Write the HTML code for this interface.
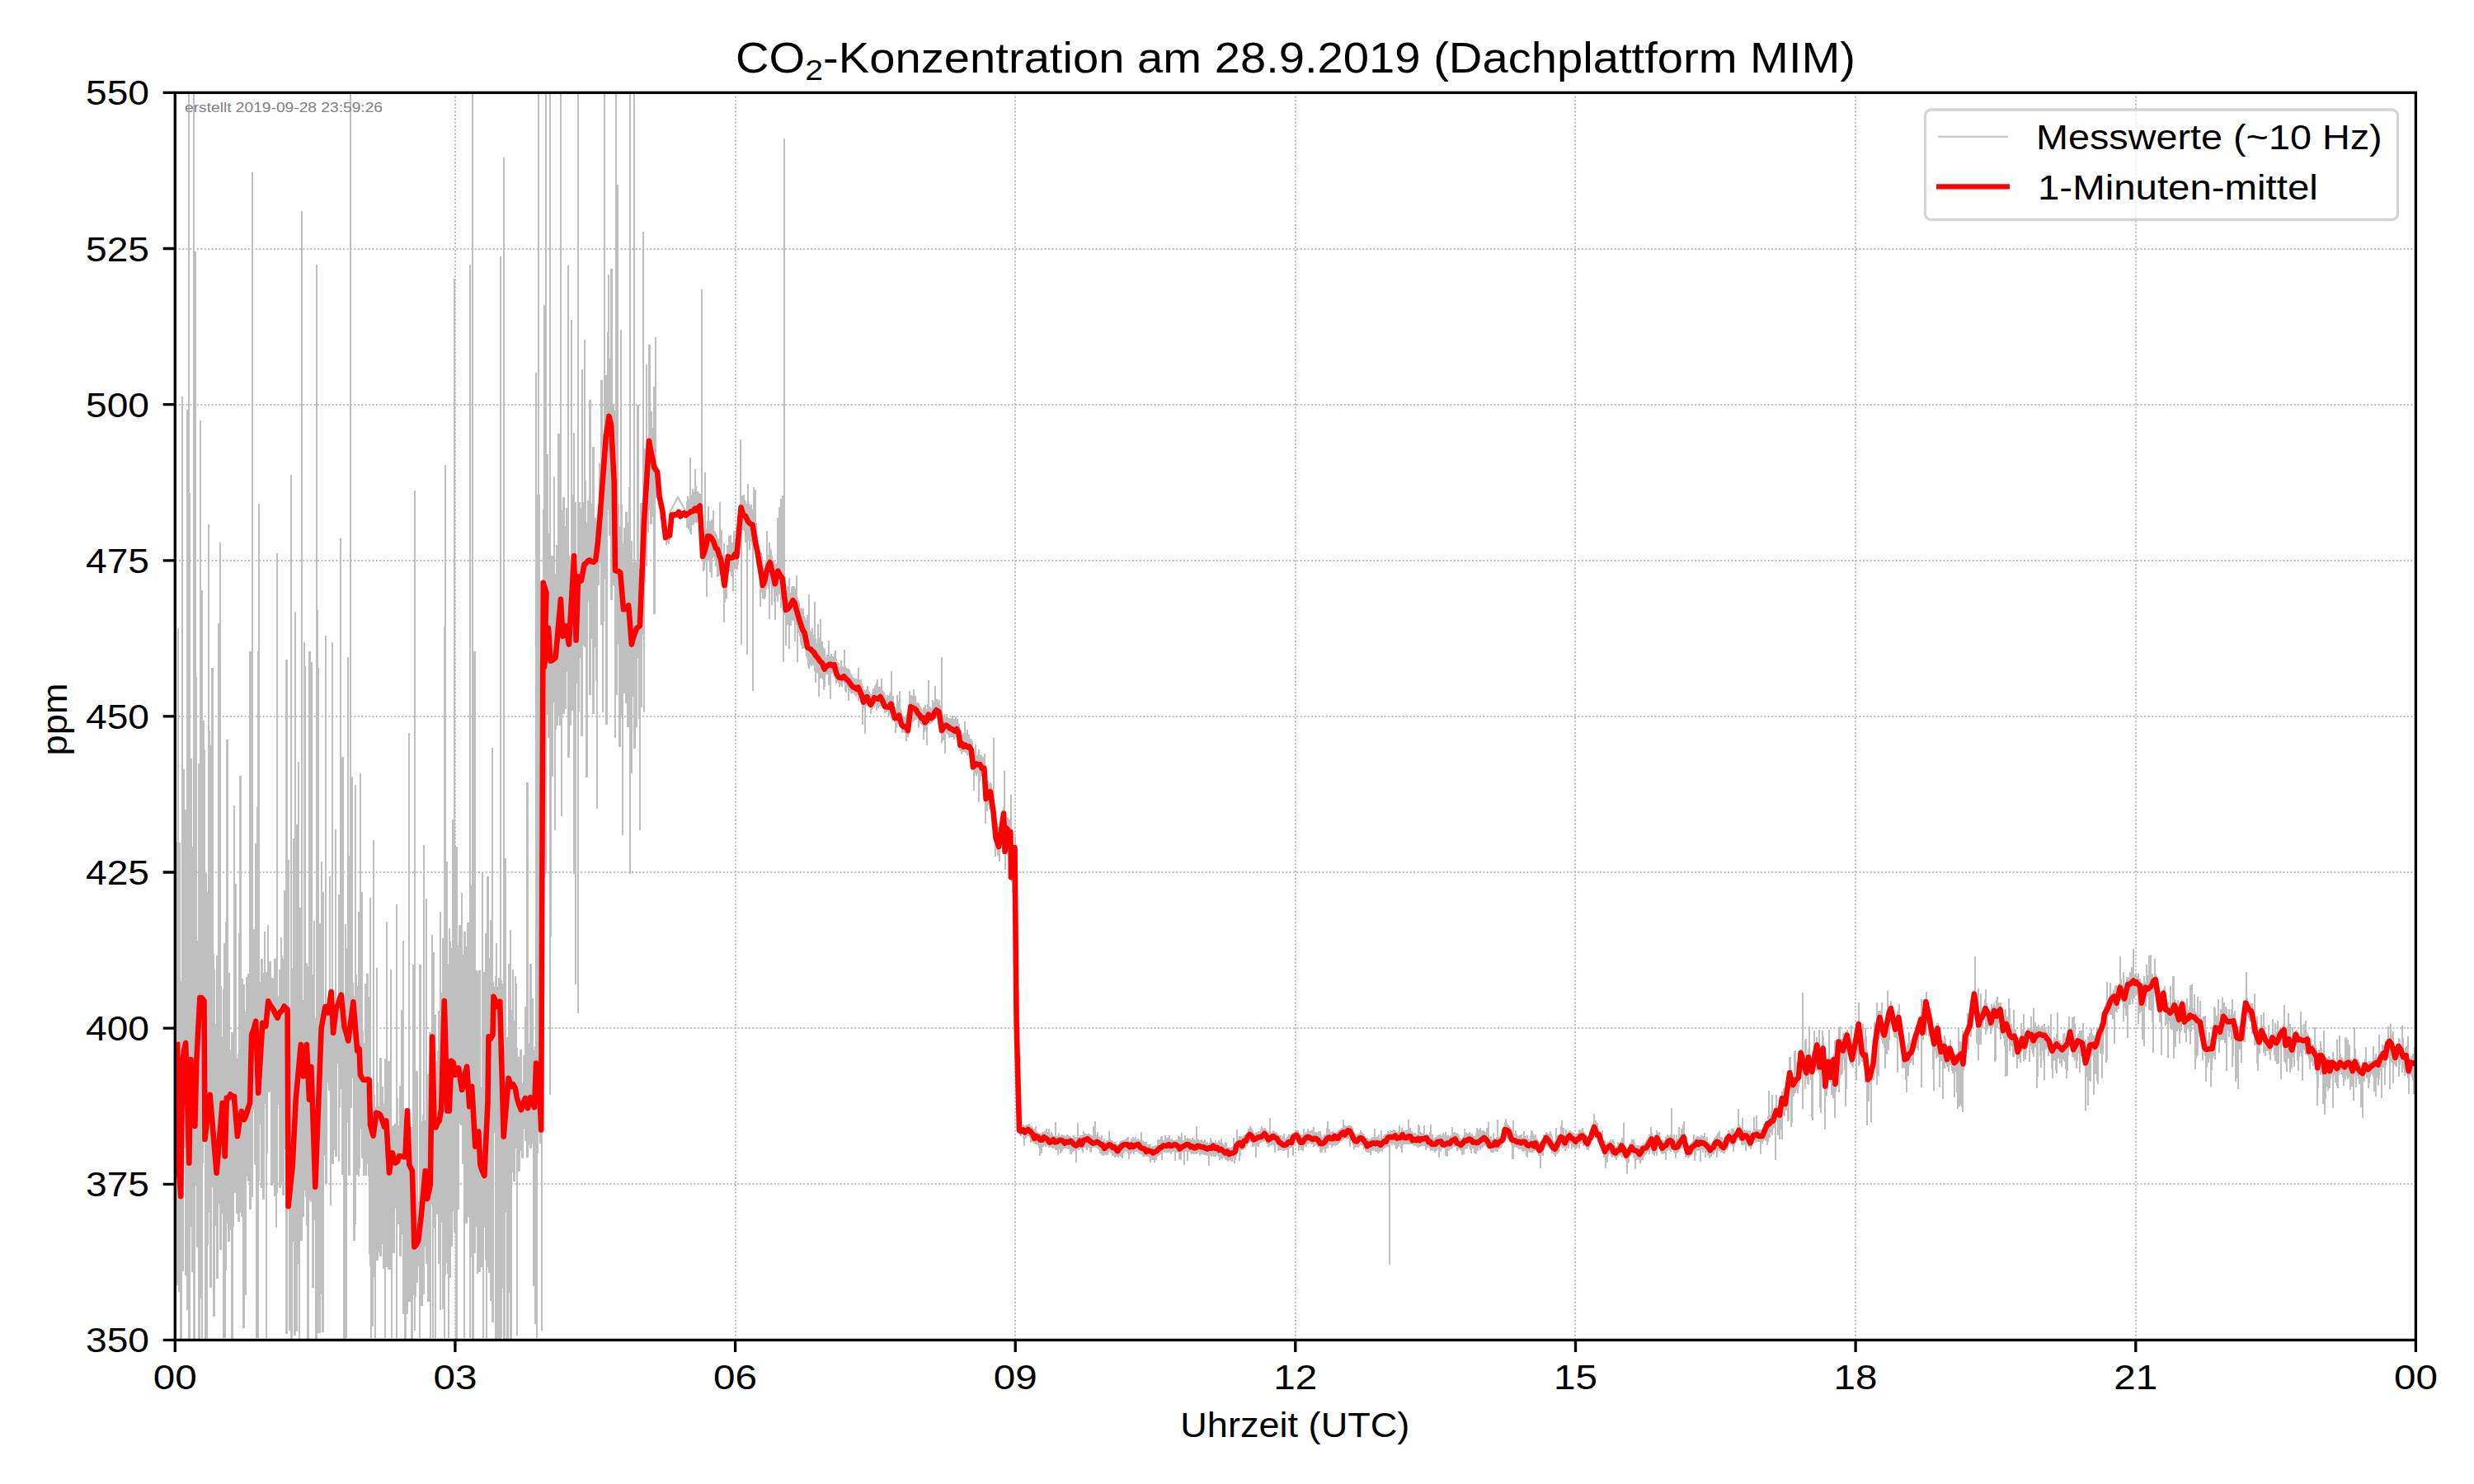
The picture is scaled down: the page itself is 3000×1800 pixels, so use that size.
<!DOCTYPE html><html><head><meta charset="utf-8"><style>html,body{margin:0;padding:0;background:#fff;}svg{display:block;}text{font-family:"Liberation Sans",sans-serif;}</style></head><body>
<svg width="3000" height="1800" viewBox="0 0 3000 1800">
<rect x="0" y="0" width="3000" height="1800" fill="#fff"/>
<path d="M552 112.4V1625.4M892 112.4V1625.4M1231 112.4V1625.4M1571 112.4V1625.4M1910 112.4V1625.4M2250 112.4V1625.4M2590 112.4V1625.4M212.3 302H2929.4M212.3 491H2929.4M212.3 680H2929.4M212.3 869H2929.4M212.3 1058H2929.4M212.3 1247H2929.4M212.3 1436H2929.4" stroke="#bdbdbd" stroke-width="2" stroke-dasharray="2 2.43" fill="none"/>
<path d="M213 1029 214 1029 214 1021 215 1021 215 762 216 762 216 762 217 762 217 1022 218 1022 218 1022 219 1022 219 1190 220 1190 220 481 221 481 221 481 222 481 222 933 223 933 223 933 224 933 224 982 225 982 225 982 226 982 226 497 227 497 227 497 228 497 228 113 229 113 229 113 230 113 230 598 231 598 231 920 232 920 232 920 233 920 233 1027 234 1027 234 113 235 113 235 113 236 113 236 305 237 305 237 305 238 305 238 821 239 821 239 1141 240 1141 240 926 241 926 241 926 242 926 242 510 243 510 243 510 244 510 244 716 245 716 245 716 246 716 246 874 247 874 247 874 248 874 248 909 249 909 249 1059 250 1059 250 1059 251 1059 251 1082 252 1082 252 636 253 636 253 636 254 636 254 886 255 886 255 904 256 904 256 810 257 810 257 810 258 810 258 810 259 810 259 1157 260 1157 260 1176 261 1176 261 1242 262 1242 262 1159 263 1159 263 1159 264 1159 264 756 265 756 265 756 266 756 266 658 267 658 267 658 268 658 268 1196 269 1196 269 1257 270 1257 270 1200 271 1200 271 1144 272 1144 272 1144 273 1144 273 1118 274 1118 274 897 275 897 275 897 276 897 276 897 277 897 277 1180 278 1180 278 1180 279 1180 279 1273 280 1273 280 1252 281 1252 281 1252 282 1252 282 1252 283 1252 283 977 284 977 284 977 285 977 285 1072 286 1072 286 1072 287 1072 287 1284 288 1284 288 1278 289 1278 289 1132 290 1132 290 941 291 941 291 941 292 941 292 941 293 941 293 1187 294 1187 294 1187 295 1187 295 1194 296 1194 296 1194 297 1194 297 1227 298 1227 298 1185 299 1185 299 1185 300 1185 300 1181 301 1181 301 1181 302 1181 302 790 303 790 303 790 304 790 304 790 305 790 305 209 306 209 306 209 307 209 307 1127 308 1127 308 1127 309 1127 309 1023 310 1023 310 1023 311 1023 311 979 312 979 312 790 313 790 313 611 314 611 314 611 315 611 315 1191 316 1191 316 1163 317 1163 317 1163 318 1163 318 1163 319 1163 319 1180 320 1180 320 1130 321 1130 321 1130 322 1130 322 1179 323 1179 323 1179 324 1179 324 1122 325 1122 325 1122 326 1122 326 1166 327 1166 327 1166 328 1166 328 1166 329 1166 329 1186 330 1186 330 1186 331 1186 331 1187 332 1187 332 1163 333 1163 333 1163 334 1163 334 1162 335 1162 335 671 336 671 336 671 337 671 337 1208 338 1208 338 1176 339 1176 339 1176 340 1176 340 1137 341 1137 341 1137 342 1137 342 1159 343 1159 343 1163 344 1163 344 1080 345 1080 345 1080 346 1080 346 800 347 800 347 800 348 800 348 800 349 800 349 1043 350 1043 350 1043 351 1043 351 1225 352 1225 352 576 353 576 353 576 354 576 354 1175 355 1175 355 1017 356 1017 356 1017 357 1017 357 742 358 742 358 742 359 742 359 1000 360 1000 360 1000 361 1000 361 924 362 924 362 924 363 924 363 1101 364 1101 364 1101 365 1101 365 256 366 256 366 256 367 256 367 1213 368 1213 368 779 369 779 369 779 370 779 370 808 371 808 371 1168 372 1168 372 1168 373 1168 373 1172 374 1172 374 790 375 790 375 790 376 790 376 790 377 790 377 803 378 803 378 803 379 803 379 1182 380 1182 380 1117 381 1117 381 1117 382 1117 382 1235 383 1235 383 321 384 321 384 321 385 321 385 740 386 740 386 810 387 810 387 1120 388 1120 388 1120 389 1120 389 1045 390 1045 390 1045 391 1045 391 1082 392 1082 392 1082 393 1082 393 1221 394 1221 394 771 395 771 395 771 396 771 396 1220 397 1220 397 1221 398 1221 398 1220 399 1220 399 1063 400 1063 400 1063 401 1063 401 1201 402 1201 402 779 403 779 403 779 404 779 404 1228 405 1228 405 1231 406 1231 406 1006 407 1006 407 1006 408 1006 408 1216 409 1216 409 1214 410 1214 410 1085 411 1085 411 1085 412 1085 412 653 413 653 413 653 414 653 414 918 415 918 415 918 416 918 416 918 417 918 417 1224 418 1224 418 1121 419 1121 419 1121 420 1121 420 1150 421 1150 421 797 422 797 422 797 423 797 423 1038 424 1038 424 113 425 113 425 113 426 113 426 942 427 942 427 942 428 942 428 1192 429 1192 429 1208 430 1208 430 952 431 952 431 952 432 952 432 1182 433 1182 433 1196 434 1196 434 1106 435 1106 435 1106 436 1106 436 938 437 938 437 938 438 938 438 1082 439 1082 439 1082 440 1082 440 1250 441 1250 441 1265 442 1265 442 1193 443 1193 443 1193 444 1193 444 1181 445 1181 445 1181 446 1181 446 1181 447 1181 447 1209 448 1209 448 1089 449 1089 449 1089 450 1089 450 1338 451 1338 451 1344 452 1344 452 1019 453 1019 453 1019 454 1019 454 1328 455 1328 455 1343 456 1343 456 1174 457 1174 457 1174 458 1174 458 1313 459 1313 459 1342 460 1342 460 1283 461 1283 461 1283 462 1283 462 1283 463 1283 463 1318 464 1318 464 1318 465 1318 465 1339 466 1339 466 1284 467 1284 467 1284 468 1284 468 1118 469 1118 469 1118 470 1118 470 1287 471 1287 471 1287 472 1287 472 1287 473 1287 473 1176 474 1176 474 1176 475 1176 475 1366 476 1366 476 1365 477 1365 477 1365 478 1365 478 1363 479 1363 479 1363 480 1363 480 1097 481 1097 481 1097 482 1097 482 1332 483 1332 483 1365 484 1365 484 1317 485 1317 485 1317 486 1317 486 1225 487 1225 487 1225 488 1225 488 1141 489 1141 489 1141 490 1141 490 1361 491 1361 491 1364 492 1364 492 1354 493 1354 493 1345 494 1345 494 1345 495 1345 495 889 496 889 496 889 497 889 497 1370 498 1370 498 1367 499 1367 499 1367 500 1367 500 1170 501 1170 501 1170 502 1170 502 595 503 595 503 595 504 595 504 1299 505 1299 505 1299 506 1299 506 1299 507 1299 507 1457 508 1457 508 1170 509 1170 509 1170 510 1170 510 1170 511 1170 511 1360 512 1360 512 1352 513 1352 513 1025 514 1025 514 1025 515 1025 515 1359 516 1359 516 1090 517 1090 517 1090 518 1090 518 1303 519 1303 519 1303 520 1303 520 1252 521 1252 521 1252 522 1252 522 1252 523 1252 523 1134 524 1134 524 1134 525 1134 525 1155 526 1155 526 1155 527 1155 527 1231 528 1231 528 1231 529 1231 529 1287 530 1287 530 1275 531 1275 531 1226 532 1226 532 1226 533 1226 533 1106 534 1106 534 1106 535 1106 535 1204 536 1204 536 1138 537 1138 537 1138 538 1138 538 760 539 760 539 564 540 564 540 564 541 564 541 1045 542 1045 542 1045 543 1045 543 1169 544 1169 544 1126 545 1126 545 1126 546 1126 546 1142 547 1142 547 1150 548 1150 548 994 549 994 549 994 550 994 550 338 551 338 551 338 552 338 552 1027 553 1027 553 1027 554 1027 554 1027 555 1027 555 1147 556 1147 556 1122 557 1122 557 1122 558 1122 558 1122 559 1122 559 1083 560 1083 560 1083 561 1083 561 1158 562 1158 562 1130 563 1130 563 1130 564 1130 564 1130 565 1130 565 1148 566 1148 566 1119 567 1119 567 1119 568 1119 568 1119 569 1119 569 321 570 321 570 321 571 321 571 1074 572 1074 572 113 573 113 573 113 574 113 574 790 575 790 575 790 576 790 576 790 577 790 577 1177 578 1177 578 1177 579 1177 579 1180 580 1180 580 1177 581 1177 581 1177 582 1177 582 1177 583 1177 583 1319 584 1319 584 1058 585 1058 585 1058 586 1058 586 1179 587 1179 587 1179 588 1179 588 1132 589 1132 589 1132 590 1132 590 1063 591 1063 591 1063 592 1063 592 1063 593 1063 593 1162 594 1162 594 1116 595 1116 595 1116 596 1116 596 907 597 907 597 907 598 907 598 1191 599 1191 599 1197 600 1197 600 1184 601 1184 601 1144 602 1144 602 1144 603 1144 603 1197 604 1197 604 1186 605 1186 605 1186 606 1186 606 311 607 311 607 311 608 311 608 1189 609 1189 609 1193 610 1193 610 191 611 191 611 191 612 191 612 1041 613 1041 613 1041 614 1041 614 1258 615 1258 615 1258 616 1258 616 1169 617 1169 617 1169 618 1169 618 1128 619 1128 619 1128 620 1128 620 1225 621 1225 621 1176 622 1176 622 1176 623 1176 623 1238 624 1238 624 1184 625 1184 625 1184 626 1184 626 1193 627 1193 627 1271 628 1271 628 1282 629 1282 629 1282 630 1282 630 1273 631 1273 631 1273 632 1273 632 1273 633 1273 633 1314 634 1314 634 1280 635 1280 635 1280 636 1280 636 1221 637 1221 637 1221 638 1221 638 949 639 949 639 949 640 949 640 949 641 949 641 1266 642 1266 642 1169 643 1169 643 1169 644 1169 644 1169 645 1169 645 1211 646 1211 646 1211 647 1211 647 1274 648 1274 648 1269 649 1269 649 452 650 452 650 452 651 452 651 600 652 600 652 113 653 113 653 113 654 113 654 600 655 600 655 1288 656 1288 656 1156 657 1156 657 891 658 891 658 618 659 618 659 370 660 370 660 370 661 370 661 113 662 113 662 113 663 113 663 551 664 551 664 551 665 551 665 647 666 647 666 113 667 113 667 113 668 113 668 674 669 674 669 674 670 674 670 674 671 674 671 578 672 578 672 578 673 578 673 696 674 696 674 661 675 661 675 661 676 661 676 526 677 526 677 526 678 526 678 526 679 526 679 113 680 113 680 113 681 113 681 619 682 619 682 603 683 603 683 603 684 603 684 603 685 603 685 638 686 638 686 616 687 616 687 616 688 616 688 322 689 322 689 322 690 322 690 674 691 674 691 679 692 679 692 388 693 388 693 388 694 388 694 600 695 600 695 525 696 525 696 525 697 525 697 609 698 609 698 609 699 609 699 702 700 702 700 113 701 113 701 113 702 113 702 609 703 609 703 609 704 609 704 616 705 616 705 448 706 448 706 448 707 448 707 609 708 609 708 412 709 412 709 412 710 412 710 583 711 583 711 634 712 634 712 607 713 607 713 607 714 607 714 485 715 485 715 485 716 485 716 485 717 485 717 611 718 611 718 542 719 542 719 542 720 542 720 542 721 542 721 628 722 628 722 628 723 628 723 632 724 632 724 623 725 623 725 623 726 623 726 562 727 562 727 562 728 562 728 461 729 461 729 461 730 461 730 461 731 461 731 526 732 526 732 113 733 113 733 113 734 113 734 455 735 455 735 455 736 455 736 403 737 403 737 333 738 333 738 333 739 333 739 435 740 435 740 326 741 326 741 326 742 326 742 326 743 326 743 490 744 490 744 490 745 490 745 498 746 498 746 113 747 113 747 113 748 113 748 224 749 224 749 224 750 224 750 611 751 611 751 639 752 639 752 400 753 400 753 400 754 400 754 612 755 612 755 659 756 659 756 640 757 640 757 640 758 640 758 621 759 621 759 621 760 621 760 621 761 621 761 634 762 634 762 591 763 591 763 113 764 113 764 113 765 113 765 656 766 656 766 656 767 656 767 682 768 682 768 113 769 113 769 113 770 113 770 679 771 679 771 682 772 682 772 491 773 491 773 491 774 491 774 491 775 491 775 690 776 690 776 610 777 610 777 610 778 610 778 610 779 610 779 281 780 281 780 281 781 281 781 544 782 544 782 544 783 544 783 442 784 442 784 442 785 442 785 533 786 533 786 418 787 418 787 418 788 418 788 418 789 418 789 499 790 499 790 499 791 499 791 519 792 519 792 469 793 469 793 469 794 469 794 409 795 409 795 409 796 409 796 564 797 564 797 566 798 566 798 570 799 570 799 577 800 577 800 577 801 577 801 601 802 601 802 606 803 606 803 610 804 610 804 614 805 614 805 624 806 624 806 632 807 632 807 641 808 641 808 646 809 646 809 645 810 645 810 644 811 644 811 644 812 644 812 638 813 638 813 628 814 628 814 621 815 621 815 620 816 620 816 620 817 620 817 621 818 621 818 621 819 621 819 621 820 621 820 621 821 621 821 621 822 621 822 621 823 621 823 620 824 620 824 620 825 620 825 620 826 620 826 620 827 620 827 620 828 620 828 620 829 620 829 619 830 619 830 619 831 619 831 619 832 619 832 608 833 608 833 602 834 602 834 602 835 602 835 605 836 605 836 555 837 555 837 555 838 555 838 600 839 600 839 593 840 593 840 593 841 593 841 596 842 596 842 569 843 569 843 569 844 569 844 589 845 589 845 596 846 596 846 596 847 596 847 598 848 598 848 598 849 598 849 599 850 599 850 351 851 351 851 351 852 351 852 648 853 648 853 655 854 655 854 573 855 573 855 573 856 573 856 641 857 641 857 632 858 632 858 614 859 614 859 614 860 614 860 632 861 632 861 632 862 632 862 630 863 630 863 630 864 630 864 619 865 619 865 619 866 619 866 644 867 644 867 645 868 645 868 647 869 647 869 649 870 649 870 653 871 653 871 654 872 654 872 609 873 609 873 609 874 609 874 643 875 643 875 643 876 643 876 673 877 673 877 659 878 659 878 659 879 659 879 684 880 684 880 679 881 679 881 661 882 661 882 661 883 661 883 650 884 650 884 650 885 650 885 649 886 649 886 649 887 649 887 658 888 658 888 658 889 658 889 644 890 644 890 644 891 644 891 654 892 654 892 647 893 647 893 647 894 647 894 626 895 626 895 626 896 626 896 614 897 614 897 533 898 533 898 533 899 533 899 601 900 601 900 601 901 601 901 600 902 600 902 600 903 600 903 607 904 607 904 608 905 608 905 611 906 611 906 587 907 587 907 587 908 587 908 611 909 611 909 613 910 613 910 612 911 612 911 612 912 612 912 618 913 618 913 591 914 591 914 591 915 591 915 594 916 594 916 594 917 594 917 634 918 634 918 649 919 649 919 655 920 655 920 660 921 660 921 668 922 668 922 670 923 670 923 670 924 670 924 675 925 675 925 684 926 684 926 689 927 689 927 683 928 683 928 680 929 680 929 644 930 644 930 644 931 644 931 673 932 673 932 658 933 658 933 658 934 658 934 665 935 665 935 667 936 667 936 674 937 674 937 679 938 679 938 680 939 680 939 680 940 680 940 684 941 684 941 683 942 683 942 628 943 628 943 628 944 628 944 615 945 615 945 615 946 615 946 605 947 605 947 605 948 605 948 601 949 601 949 601 950 601 950 168 951 168 951 168 952 168 952 700 953 700 953 716 954 716 954 711 955 711 955 711 956 711 956 701 957 701 957 701 958 701 958 719 959 719 959 712 960 712 960 711 961 711 961 711 962 711 962 711 963 711 963 711 964 711 964 714 965 714 965 698 966 698 966 698 967 698 967 725 968 725 968 728 969 728 969 730 970 730 970 737 971 737 971 738 972 738 972 738 973 738 973 738 974 738 974 738 975 738 975 747 976 747 976 749 977 749 977 752 978 752 978 746 979 746 979 746 980 746 980 721 981 721 981 721 982 721 982 764 983 764 983 766 984 766 984 762 985 762 985 762 986 762 986 770 987 770 987 730 988 730 988 730 989 730 989 774 990 774 990 780 991 780 991 757 992 757 992 757 993 757 993 773 994 773 994 751 995 751 995 751 996 751 996 778 997 778 997 778 998 778 998 785 999 785 999 787 1000 787 1000 787 1001 787 1001 797 1002 797 1002 794 1003 794 1003 794 1004 794 1004 777 1005 777 1005 777 1006 777 1006 796 1007 796 1007 793 1008 793 1008 793 1009 793 1009 796 1010 796 1010 796 1011 796 1011 792 1012 792 1012 789 1013 789 1013 789 1014 789 1014 799 1015 799 1015 802 1016 802 1016 804 1017 804 1017 804 1018 804 1018 809 1019 809 1019 801 1020 801 1020 801 1021 801 1021 808 1022 808 1022 809 1023 809 1023 788 1024 788 1024 788 1025 788 1025 808 1026 808 1026 810 1027 810 1027 811 1028 811 1028 811 1029 811 1029 811 1030 811 1030 813 1031 813 1031 816 1032 816 1032 818 1033 818 1033 819 1034 819 1034 822 1035 822 1035 822 1036 822 1036 823 1037 823 1037 823 1038 823 1038 823 1039 823 1039 824 1040 824 1040 810 1041 810 1041 810 1042 810 1042 825 1043 825 1043 824 1044 824 1044 824 1045 824 1045 829 1046 829 1046 832 1047 832 1047 836 1048 836 1048 836 1049 836 1049 837 1050 837 1050 836 1051 836 1051 832 1052 832 1052 832 1053 832 1053 837 1054 837 1054 839 1055 839 1055 841 1056 841 1056 842 1057 842 1057 840 1058 840 1058 835 1059 835 1059 835 1060 835 1060 832 1061 832 1061 830 1062 830 1062 828 1063 828 1063 824 1064 824 1064 824 1065 824 1065 833 1066 833 1066 833 1067 833 1067 833 1068 833 1068 823 1069 823 1069 823 1070 823 1070 837 1071 837 1071 839 1072 839 1072 839 1073 839 1073 842 1074 842 1074 846 1075 846 1075 843 1076 843 1076 843 1077 843 1077 844 1078 844 1078 842 1079 842 1079 839 1080 839 1080 814 1081 814 1081 814 1082 814 1082 844 1083 844 1083 844 1084 844 1084 853 1085 853 1085 857 1086 857 1086 859 1087 859 1087 843 1088 843 1088 843 1089 843 1089 850 1090 850 1090 838 1091 838 1091 838 1092 838 1092 860 1093 860 1093 862 1094 862 1094 868 1095 868 1095 868 1096 868 1096 869 1097 869 1097 869 1098 869 1098 867 1099 867 1099 866 1100 866 1100 866 1101 866 1101 863 1102 863 1102 838 1103 838 1103 838 1104 838 1104 843 1105 843 1105 843 1106 843 1106 844 1107 844 1107 836 1108 836 1108 836 1109 836 1109 844 1110 844 1110 844 1111 844 1111 852 1112 852 1112 852 1113 852 1113 852 1114 852 1114 853 1115 853 1115 855 1116 855 1116 857 1117 857 1117 859 1118 859 1118 861 1119 861 1119 858 1120 858 1120 858 1121 858 1121 855 1122 855 1122 855 1123 855 1123 860 1124 860 1124 854 1125 854 1125 825 1126 825 1126 825 1127 825 1127 857 1128 857 1128 858 1129 858 1129 859 1130 859 1130 849 1131 849 1131 849 1132 849 1132 851 1133 851 1133 832 1134 832 1134 832 1135 832 1135 848 1136 848 1136 848 1137 848 1137 851 1138 851 1138 849 1139 849 1139 849 1140 849 1140 855 1141 855 1141 797 1142 797 1142 797 1143 797 1143 868 1144 868 1144 866 1145 866 1145 866 1146 866 1146 869 1147 869 1147 866 1148 866 1148 866 1149 866 1149 870 1150 870 1150 871 1151 871 1151 871 1152 871 1152 872 1153 872 1153 871 1154 871 1154 868 1155 868 1155 868 1156 868 1156 872 1157 872 1157 872 1158 872 1158 869 1159 869 1159 869 1160 869 1160 872 1161 872 1161 872 1162 872 1162 877 1163 877 1163 878 1164 878 1164 885 1165 885 1165 891 1166 891 1166 891 1167 891 1167 889 1168 889 1168 889 1169 889 1169 875 1170 875 1170 875 1171 875 1171 889 1172 889 1172 885 1173 885 1173 885 1174 885 1174 891 1175 891 1175 891 1176 891 1176 896 1177 896 1177 896 1178 896 1178 898 1179 898 1179 899 1180 899 1180 913 1181 913 1181 916 1182 916 1182 903 1183 903 1183 903 1184 903 1184 916 1185 916 1185 914 1186 914 1186 909 1187 909 1187 909 1188 909 1188 915 1189 915 1189 915 1190 915 1190 916 1191 916 1191 918 1192 918 1192 918 1193 918 1193 914 1194 914 1194 914 1195 914 1195 928 1196 928 1196 952 1197 952 1197 947 1198 947 1198 947 1199 947 1199 950 1200 950 1200 949 1201 949 1201 949 1202 949 1202 951 1203 951 1203 958 1204 958 1204 895 1205 895 1205 895 1206 895 1206 979 1207 979 1207 989 1208 989 1208 998 1209 998 1209 998 1210 998 1210 1003 1211 1003 1211 1003 1212 1003 1212 1000 1213 1000 1213 998 1214 998 1214 989 1215 989 1215 983 1216 983 1216 978 1217 978 1217 935 1218 935 1218 935 1219 935 1219 1009 1220 1009 1220 996 1221 996 1221 992 1222 992 1222 992 1223 992 1223 994 1224 994 1224 994 1225 994 1225 964 1226 964 1226 964 1227 964 1227 1025 1228 1025 1228 1025 1229 1025 1229 1024 1230 1024 1230 1015 1231 1015 1231 1015 1232 1015 1232 1077 1233 1077 1233 1178 1234 1178 1234 1254 1235 1254 1235 1292 1236 1292 1236 1331 1237 1331 1237 1367 1238 1367 1238 1368 1239 1368 1239 1368 1240 1368 1240 1364 1241 1364 1241 1364 1242 1364 1242 1366 1243 1366 1243 1365 1244 1365 1244 1364 1245 1364 1245 1364 1246 1364 1246 1364 1247 1364 1247 1363 1248 1363 1248 1363 1249 1363 1249 1365 1250 1365 1250 1366 1251 1366 1251 1366 1252 1366 1252 1368 1253 1368 1253 1369 1254 1369 1254 1369 1255 1369 1255 1366 1256 1366 1256 1366 1257 1366 1257 1372 1258 1372 1258 1373 1259 1373 1259 1374 1260 1374 1260 1374 1261 1374 1261 1374 1262 1374 1262 1375 1263 1375 1263 1373 1264 1373 1264 1373 1265 1373 1265 1373 1266 1373 1266 1372 1267 1372 1267 1372 1268 1372 1268 1369 1269 1369 1269 1369 1270 1369 1270 1373 1271 1373 1271 1369 1272 1369 1272 1369 1273 1369 1273 1376 1274 1376 1274 1373 1275 1373 1275 1373 1276 1373 1276 1375 1277 1375 1277 1377 1278 1377 1278 1378 1279 1378 1279 1361 1280 1361 1280 1361 1281 1361 1281 1378 1282 1378 1282 1377 1283 1377 1283 1374 1284 1374 1284 1374 1285 1374 1285 1378 1286 1378 1286 1377 1287 1377 1287 1376 1288 1376 1288 1376 1289 1376 1289 1377 1290 1377 1290 1377 1291 1377 1291 1378 1292 1378 1292 1378 1293 1378 1293 1376 1294 1376 1294 1376 1295 1376 1295 1377 1296 1377 1296 1378 1297 1378 1297 1378 1298 1378 1298 1379 1299 1379 1299 1380 1300 1380 1300 1380 1301 1380 1301 1377 1302 1377 1302 1377 1303 1377 1303 1379 1304 1379 1304 1379 1305 1379 1305 1379 1306 1379 1306 1362 1307 1362 1307 1362 1308 1362 1308 1379 1309 1379 1309 1377 1310 1377 1310 1377 1311 1377 1311 1377 1312 1377 1312 1377 1313 1377 1313 1372 1314 1372 1314 1372 1315 1372 1315 1375 1316 1375 1316 1375 1317 1375 1317 1375 1318 1375 1318 1376 1319 1376 1319 1375 1320 1375 1320 1375 1321 1375 1321 1376 1322 1376 1322 1376 1323 1376 1323 1377 1324 1377 1324 1377 1325 1377 1325 1366 1326 1366 1326 1366 1327 1366 1327 1360 1328 1360 1328 1360 1329 1360 1329 1377 1330 1377 1330 1373 1331 1373 1331 1373 1332 1373 1332 1378 1333 1378 1333 1379 1334 1379 1334 1380 1335 1380 1335 1377 1336 1377 1336 1377 1337 1377 1337 1384 1338 1384 1338 1381 1339 1381 1339 1381 1340 1381 1340 1385 1341 1385 1341 1383 1342 1383 1342 1383 1343 1383 1343 1383 1344 1383 1344 1372 1345 1372 1345 1372 1346 1372 1346 1381 1347 1381 1347 1383 1348 1383 1348 1383 1349 1383 1349 1384 1350 1384 1350 1385 1351 1385 1351 1385 1352 1385 1352 1385 1353 1385 1353 1386 1354 1386 1354 1388 1355 1388 1355 1388 1356 1388 1356 1388 1357 1388 1357 1386 1358 1386 1358 1384 1359 1384 1359 1384 1360 1384 1360 1383 1361 1383 1361 1383 1362 1383 1362 1383 1363 1383 1363 1382 1364 1382 1364 1382 1365 1382 1365 1381 1366 1381 1366 1380 1367 1380 1367 1379 1368 1379 1368 1379 1369 1379 1369 1384 1370 1384 1370 1384 1371 1384 1371 1381 1372 1381 1372 1381 1373 1381 1373 1379 1374 1379 1374 1379 1375 1379 1375 1381 1376 1381 1376 1379 1377 1379 1377 1379 1378 1379 1378 1382 1379 1382 1379 1381 1380 1381 1380 1381 1381 1381 1381 1383 1382 1383 1382 1382 1383 1382 1383 1373 1384 1373 1384 1373 1385 1373 1385 1383 1386 1383 1386 1384 1387 1384 1387 1385 1388 1385 1388 1385 1389 1385 1389 1385 1390 1385 1390 1385 1391 1385 1391 1388 1392 1388 1392 1388 1393 1388 1393 1388 1394 1388 1394 1388 1395 1388 1395 1388 1396 1388 1396 1391 1397 1391 1397 1390 1398 1390 1398 1390 1399 1390 1399 1390 1400 1390 1400 1389 1401 1389 1401 1389 1402 1389 1402 1389 1403 1389 1403 1382 1404 1382 1404 1382 1405 1382 1405 1382 1406 1382 1406 1382 1407 1382 1407 1379 1408 1379 1408 1378 1409 1378 1409 1378 1410 1378 1410 1383 1411 1383 1411 1383 1412 1383 1412 1377 1413 1377 1413 1377 1414 1377 1414 1380 1415 1380 1415 1380 1416 1380 1416 1380 1417 1380 1417 1377 1418 1377 1418 1377 1419 1377 1419 1382 1420 1382 1420 1381 1421 1381 1421 1381 1422 1381 1422 1383 1423 1383 1423 1383 1424 1383 1424 1383 1425 1383 1425 1382 1426 1382 1426 1382 1427 1382 1427 1383 1428 1383 1428 1378 1429 1378 1429 1378 1430 1378 1430 1379 1431 1379 1431 1379 1432 1379 1432 1374 1433 1374 1433 1374 1434 1374 1434 1383 1435 1383 1435 1383 1436 1383 1436 1377 1437 1377 1437 1377 1438 1377 1438 1381 1439 1381 1439 1380 1440 1380 1440 1380 1441 1380 1441 1381 1442 1381 1442 1381 1443 1381 1443 1381 1444 1381 1444 1382 1445 1382 1445 1380 1446 1380 1446 1380 1447 1380 1447 1382 1448 1382 1448 1382 1449 1382 1449 1383 1450 1383 1450 1366 1451 1366 1451 1366 1452 1366 1452 1381 1453 1381 1453 1382 1454 1382 1454 1383 1455 1383 1455 1383 1456 1383 1456 1382 1457 1382 1457 1382 1458 1382 1458 1384 1459 1384 1459 1384 1460 1384 1460 1382 1461 1382 1461 1382 1462 1382 1462 1386 1463 1386 1463 1385 1464 1385 1464 1385 1465 1385 1465 1387 1466 1387 1466 1386 1467 1386 1467 1380 1468 1380 1468 1380 1469 1380 1469 1383 1470 1383 1470 1386 1471 1386 1471 1386 1472 1386 1472 1386 1473 1386 1473 1383 1474 1383 1474 1383 1475 1383 1475 1386 1476 1386 1476 1386 1477 1386 1477 1383 1478 1383 1478 1383 1479 1383 1479 1385 1480 1385 1480 1381 1481 1381 1481 1381 1482 1381 1482 1386 1483 1386 1483 1388 1484 1388 1484 1389 1485 1389 1485 1385 1486 1385 1486 1385 1487 1385 1487 1386 1488 1386 1488 1392 1489 1392 1489 1391 1490 1391 1490 1391 1491 1391 1491 1392 1492 1392 1492 1392 1493 1392 1493 1391 1494 1391 1494 1391 1495 1391 1495 1380 1496 1380 1496 1380 1497 1380 1497 1387 1498 1387 1498 1386 1499 1386 1499 1370 1500 1370 1500 1370 1501 1370 1501 1381 1502 1381 1502 1378 1503 1378 1503 1378 1504 1378 1504 1378 1505 1378 1505 1378 1506 1378 1506 1379 1507 1379 1507 1377 1508 1377 1508 1377 1509 1377 1509 1377 1510 1377 1510 1376 1511 1376 1511 1374 1512 1374 1512 1374 1513 1374 1513 1369 1514 1369 1514 1369 1515 1369 1515 1366 1516 1366 1516 1366 1517 1366 1517 1368 1518 1368 1518 1369 1519 1369 1519 1371 1520 1371 1520 1374 1521 1374 1521 1375 1522 1375 1522 1373 1523 1373 1523 1373 1524 1373 1524 1373 1525 1373 1525 1372 1526 1372 1526 1372 1527 1372 1527 1372 1528 1372 1528 1369 1529 1369 1529 1366 1530 1366 1530 1366 1531 1366 1531 1368 1532 1368 1532 1369 1533 1369 1533 1368 1534 1368 1534 1368 1535 1368 1535 1370 1536 1370 1536 1371 1537 1371 1537 1373 1538 1373 1538 1373 1539 1373 1539 1356 1540 1356 1540 1356 1541 1356 1541 1374 1542 1374 1542 1374 1543 1374 1543 1371 1544 1371 1544 1371 1545 1371 1545 1372 1546 1372 1546 1373 1547 1373 1547 1373 1548 1373 1548 1374 1549 1374 1549 1375 1550 1375 1550 1376 1551 1376 1551 1377 1552 1377 1552 1377 1553 1377 1553 1377 1554 1377 1554 1380 1555 1380 1555 1378 1556 1378 1556 1375 1557 1375 1557 1375 1558 1375 1558 1381 1559 1381 1559 1380 1560 1380 1560 1379 1561 1379 1561 1378 1562 1378 1562 1376 1563 1376 1563 1376 1564 1376 1564 1376 1565 1376 1565 1376 1566 1376 1566 1374 1567 1374 1567 1374 1568 1374 1568 1374 1569 1374 1569 1373 1570 1373 1570 1370 1571 1370 1571 1370 1572 1370 1572 1370 1573 1370 1573 1371 1574 1371 1574 1371 1575 1371 1575 1374 1576 1374 1576 1376 1577 1376 1577 1376 1578 1376 1578 1376 1579 1376 1579 1376 1580 1376 1580 1369 1581 1369 1581 1369 1582 1369 1582 1375 1583 1375 1583 1373 1584 1373 1584 1373 1585 1373 1585 1369 1586 1369 1586 1369 1587 1369 1587 1372 1588 1372 1588 1372 1589 1372 1589 1371 1590 1371 1590 1371 1591 1371 1591 1371 1592 1371 1592 1367 1593 1367 1593 1367 1594 1367 1594 1373 1595 1373 1595 1373 1596 1373 1596 1373 1597 1373 1597 1374 1598 1374 1598 1372 1599 1372 1599 1372 1600 1372 1600 1372 1601 1372 1601 1372 1602 1372 1602 1377 1603 1377 1603 1379 1604 1379 1604 1379 1605 1379 1605 1377 1606 1377 1606 1376 1607 1376 1607 1376 1608 1376 1608 1368 1609 1368 1609 1360 1610 1360 1610 1360 1611 1360 1611 1370 1612 1370 1612 1370 1613 1370 1613 1373 1614 1373 1614 1373 1615 1373 1615 1372 1616 1372 1616 1372 1617 1372 1617 1373 1618 1373 1618 1373 1619 1373 1619 1374 1620 1374 1620 1373 1621 1373 1621 1372 1622 1372 1622 1371 1623 1371 1623 1370 1624 1370 1624 1370 1625 1370 1625 1369 1626 1369 1626 1368 1627 1368 1627 1368 1628 1368 1628 1358 1629 1358 1629 1358 1630 1358 1630 1365 1631 1365 1631 1365 1632 1365 1632 1366 1633 1366 1633 1365 1634 1365 1634 1365 1635 1365 1635 1365 1636 1365 1636 1365 1637 1365 1637 1365 1638 1365 1638 1365 1639 1365 1639 1366 1640 1366 1640 1368 1641 1368 1641 1372 1642 1372 1642 1374 1643 1374 1643 1375 1644 1375 1644 1376 1645 1376 1645 1376 1646 1376 1646 1375 1647 1375 1647 1375 1648 1375 1648 1374 1649 1374 1649 1371 1650 1371 1650 1371 1651 1371 1651 1373 1652 1373 1652 1374 1653 1374 1653 1375 1654 1375 1654 1376 1655 1376 1655 1378 1656 1378 1656 1380 1657 1380 1657 1380 1658 1380 1658 1380 1659 1380 1659 1382 1660 1382 1660 1382 1661 1382 1661 1382 1662 1382 1662 1380 1663 1380 1663 1380 1664 1380 1664 1379 1665 1379 1665 1379 1666 1379 1666 1369 1667 1369 1667 1369 1668 1369 1668 1379 1669 1379 1669 1379 1670 1379 1670 1378 1671 1378 1671 1376 1672 1376 1672 1376 1673 1376 1673 1381 1674 1381 1674 1371 1675 1371 1675 1371 1676 1371 1676 1380 1677 1380 1677 1378 1678 1378 1678 1376 1679 1376 1679 1376 1680 1376 1680 1376 1681 1376 1681 1375 1682 1375 1682 1372 1683 1372 1683 1372 1684 1372 1684 1373 1685 1373 1685 1371 1686 1371 1686 1371 1687 1371 1687 1372 1688 1372 1688 1371 1689 1371 1689 1370 1690 1370 1690 1370 1691 1370 1691 1371 1692 1371 1692 1371 1693 1371 1693 1373 1694 1373 1694 1373 1695 1373 1695 1372 1696 1372 1696 1365 1697 1365 1697 1365 1698 1365 1698 1373 1699 1373 1699 1368 1700 1368 1700 1368 1701 1368 1701 1371 1702 1371 1702 1371 1703 1371 1703 1371 1704 1371 1704 1371 1705 1371 1705 1371 1706 1371 1706 1370 1707 1370 1707 1358 1708 1358 1708 1358 1709 1358 1709 1368 1710 1368 1710 1368 1711 1368 1711 1372 1712 1372 1712 1372 1713 1372 1713 1374 1714 1374 1714 1374 1715 1374 1715 1374 1716 1374 1716 1374 1717 1374 1717 1375 1718 1375 1718 1376 1719 1376 1719 1364 1720 1364 1720 1364 1721 1364 1721 1366 1722 1366 1722 1373 1723 1373 1723 1373 1724 1373 1724 1375 1725 1375 1725 1374 1726 1374 1726 1365 1727 1365 1727 1365 1728 1365 1728 1376 1729 1376 1729 1375 1730 1375 1730 1375 1731 1375 1731 1376 1732 1376 1732 1376 1733 1376 1733 1373 1734 1373 1734 1364 1735 1364 1735 1364 1736 1364 1736 1376 1737 1376 1737 1376 1738 1376 1738 1381 1739 1381 1739 1380 1740 1380 1740 1379 1741 1379 1741 1379 1742 1379 1742 1378 1743 1378 1743 1377 1744 1377 1744 1377 1745 1377 1745 1376 1746 1376 1746 1376 1747 1376 1747 1376 1748 1376 1748 1378 1749 1378 1749 1374 1750 1374 1750 1374 1751 1374 1751 1377 1752 1377 1752 1373 1753 1373 1753 1373 1754 1373 1754 1377 1755 1377 1755 1377 1756 1377 1756 1377 1757 1377 1757 1378 1758 1378 1758 1377 1759 1377 1759 1377 1760 1377 1760 1367 1761 1367 1761 1367 1762 1367 1762 1374 1763 1374 1763 1373 1764 1373 1764 1373 1765 1373 1765 1374 1766 1374 1766 1374 1767 1374 1767 1375 1768 1375 1768 1375 1769 1375 1769 1377 1770 1377 1770 1380 1771 1380 1771 1381 1772 1381 1772 1381 1773 1381 1773 1380 1774 1380 1774 1379 1775 1379 1775 1369 1776 1369 1776 1369 1777 1369 1777 1374 1778 1374 1778 1374 1779 1374 1779 1375 1780 1375 1780 1375 1781 1375 1781 1373 1782 1373 1782 1373 1783 1373 1783 1376 1784 1376 1784 1375 1785 1375 1785 1375 1786 1375 1786 1378 1787 1378 1787 1378 1788 1378 1788 1378 1789 1378 1789 1375 1790 1375 1790 1368 1791 1368 1791 1368 1792 1368 1792 1370 1793 1370 1793 1370 1794 1370 1794 1368 1795 1368 1795 1368 1796 1368 1796 1371 1797 1371 1797 1371 1798 1371 1798 1371 1799 1371 1799 1371 1800 1371 1800 1372 1801 1372 1801 1373 1802 1373 1802 1368 1803 1368 1803 1368 1804 1368 1804 1361 1805 1361 1805 1361 1806 1361 1806 1379 1807 1379 1807 1378 1808 1378 1808 1378 1809 1378 1809 1382 1810 1382 1810 1374 1811 1374 1811 1374 1812 1374 1812 1380 1813 1380 1813 1381 1814 1381 1814 1379 1815 1379 1815 1358 1816 1358 1816 1358 1817 1358 1817 1379 1818 1379 1818 1378 1819 1378 1819 1378 1820 1378 1820 1376 1821 1376 1821 1373 1822 1373 1822 1370 1823 1370 1823 1366 1824 1366 1824 1361 1825 1361 1825 1357 1826 1357 1826 1357 1827 1357 1827 1362 1828 1362 1828 1364 1829 1364 1829 1364 1830 1364 1830 1366 1831 1366 1831 1367 1832 1367 1832 1369 1833 1369 1833 1372 1834 1372 1834 1359 1835 1359 1835 1359 1836 1359 1836 1375 1837 1375 1837 1371 1838 1371 1838 1371 1839 1371 1839 1375 1840 1375 1840 1378 1841 1378 1841 1377 1842 1377 1842 1377 1843 1377 1843 1377 1844 1377 1844 1376 1845 1376 1845 1376 1846 1376 1846 1380 1847 1380 1847 1372 1848 1372 1848 1372 1849 1372 1849 1378 1850 1378 1850 1381 1851 1381 1851 1377 1852 1377 1852 1377 1853 1377 1853 1381 1854 1381 1854 1382 1855 1382 1855 1378 1856 1378 1856 1371 1857 1371 1857 1371 1858 1371 1858 1372 1859 1372 1859 1375 1860 1375 1860 1377 1861 1377 1861 1376 1862 1376 1862 1376 1863 1376 1863 1380 1864 1380 1864 1382 1865 1382 1865 1384 1866 1384 1866 1386 1867 1386 1867 1387 1868 1387 1868 1385 1869 1385 1869 1383 1870 1383 1870 1381 1871 1381 1871 1376 1872 1376 1872 1376 1873 1376 1873 1376 1874 1376 1874 1373 1875 1373 1875 1373 1876 1373 1876 1374 1877 1374 1877 1375 1878 1375 1878 1375 1879 1375 1879 1372 1880 1372 1880 1372 1881 1372 1881 1375 1882 1375 1882 1378 1883 1378 1883 1382 1884 1382 1884 1384 1885 1384 1885 1384 1886 1384 1886 1368 1887 1368 1887 1368 1888 1368 1888 1377 1889 1377 1889 1377 1890 1377 1890 1377 1891 1377 1891 1374 1892 1374 1892 1366 1893 1366 1893 1359 1894 1359 1894 1359 1895 1359 1895 1368 1896 1368 1896 1368 1897 1368 1897 1377 1898 1377 1898 1370 1899 1370 1899 1370 1900 1370 1900 1375 1901 1375 1901 1373 1902 1373 1902 1372 1903 1372 1903 1371 1904 1371 1904 1371 1905 1371 1905 1372 1906 1372 1906 1373 1907 1373 1907 1373 1908 1373 1908 1374 1909 1374 1909 1376 1910 1376 1910 1375 1911 1375 1911 1375 1912 1375 1912 1375 1913 1375 1913 1375 1914 1375 1914 1370 1915 1370 1915 1370 1916 1370 1916 1371 1917 1371 1917 1370 1918 1370 1918 1368 1919 1368 1919 1368 1920 1368 1920 1372 1921 1372 1921 1373 1922 1373 1922 1375 1923 1375 1923 1376 1924 1376 1924 1378 1925 1378 1925 1378 1926 1378 1926 1377 1927 1377 1927 1373 1928 1373 1928 1372 1929 1372 1929 1369 1930 1369 1930 1366 1931 1366 1931 1363 1932 1363 1932 1351 1933 1351 1933 1351 1934 1351 1934 1359 1935 1359 1935 1359 1936 1359 1936 1362 1937 1362 1937 1362 1938 1362 1938 1369 1939 1369 1939 1372 1940 1372 1940 1373 1941 1373 1941 1374 1942 1374 1942 1371 1943 1371 1943 1371 1944 1371 1944 1383 1945 1383 1945 1383 1946 1383 1946 1383 1947 1383 1947 1388 1948 1388 1948 1386 1949 1386 1949 1385 1950 1385 1950 1385 1951 1385 1951 1384 1952 1384 1952 1382 1953 1382 1953 1382 1954 1382 1954 1384 1955 1384 1955 1382 1956 1382 1956 1382 1957 1382 1957 1385 1958 1385 1958 1389 1959 1389 1959 1391 1960 1391 1960 1390 1961 1390 1961 1385 1962 1385 1962 1385 1963 1385 1963 1386 1964 1386 1964 1385 1965 1385 1965 1384 1966 1384 1966 1380 1967 1380 1967 1380 1968 1380 1968 1362 1969 1362 1969 1362 1970 1362 1970 1389 1971 1389 1971 1390 1972 1390 1972 1392 1973 1392 1973 1392 1974 1392 1974 1391 1975 1391 1975 1387 1976 1387 1976 1387 1977 1387 1977 1385 1978 1385 1978 1382 1979 1382 1979 1382 1980 1382 1980 1382 1981 1382 1981 1382 1982 1382 1982 1385 1983 1385 1983 1388 1984 1388 1984 1389 1985 1389 1985 1389 1986 1389 1986 1389 1987 1389 1987 1389 1988 1389 1988 1390 1989 1390 1989 1389 1990 1389 1990 1389 1991 1389 1991 1389 1992 1389 1992 1387 1993 1387 1993 1387 1994 1387 1994 1386 1995 1386 1995 1384 1996 1384 1996 1382 1997 1382 1997 1382 1998 1382 1998 1379 1999 1379 1999 1376 2000 1376 2000 1376 2001 1376 2001 1367 2002 1367 2002 1367 2003 1367 2003 1374 2004 1374 2004 1378 2005 1378 2005 1380 2006 1380 2006 1383 2007 1383 2007 1378 2008 1378 2008 1371 2009 1371 2009 1371 2010 1371 2010 1374 2011 1374 2011 1373 2012 1373 2012 1373 2013 1373 2013 1378 2014 1378 2014 1382 2015 1382 2015 1383 2016 1383 2016 1383 2017 1383 2017 1383 2018 1383 2018 1383 2019 1383 2019 1379 2020 1379 2020 1379 2021 1379 2021 1376 2022 1376 2022 1376 2023 1376 2023 1378 2024 1378 2024 1377 2025 1377 2025 1376 2026 1376 2026 1344 2027 1344 2027 1344 2028 1344 2028 1378 2029 1378 2029 1376 2030 1376 2030 1376 2031 1376 2031 1383 2032 1383 2032 1377 2033 1377 2033 1377 2034 1377 2034 1381 2035 1381 2035 1367 2036 1367 2036 1367 2037 1367 2037 1376 2038 1376 2038 1369 2039 1369 2039 1369 2040 1369 2040 1364 2041 1364 2041 1360 2042 1360 2042 1360 2043 1360 2043 1375 2044 1375 2044 1379 2045 1379 2045 1379 2046 1379 2046 1387 2047 1387 2047 1389 2048 1389 2048 1389 2049 1389 2049 1387 2050 1387 2050 1386 2051 1386 2051 1385 2052 1385 2052 1384 2053 1384 2053 1376 2054 1376 2054 1376 2055 1376 2055 1381 2056 1381 2056 1379 2057 1379 2057 1379 2058 1379 2058 1378 2059 1378 2059 1378 2060 1378 2060 1379 2061 1379 2061 1379 2062 1379 2062 1377 2063 1377 2063 1377 2064 1377 2064 1378 2065 1378 2065 1378 2066 1378 2066 1374 2067 1374 2067 1374 2068 1374 2068 1381 2069 1381 2069 1379 2070 1379 2070 1379 2071 1379 2071 1385 2072 1385 2072 1385 2073 1385 2073 1387 2074 1387 2074 1387 2075 1387 2075 1386 2076 1386 2076 1385 2077 1385 2077 1384 2078 1384 2078 1380 2079 1380 2079 1380 2080 1380 2080 1378 2081 1378 2081 1377 2082 1377 2082 1374 2083 1374 2083 1374 2084 1374 2084 1372 2085 1372 2085 1372 2086 1372 2086 1379 2087 1379 2087 1379 2088 1379 2088 1379 2089 1379 2089 1384 2090 1384 2090 1384 2091 1384 2091 1380 2092 1380 2092 1380 2093 1380 2093 1378 2094 1378 2094 1376 2095 1376 2095 1371 2096 1371 2096 1371 2097 1371 2097 1372 2098 1372 2098 1373 2099 1373 2099 1369 2100 1369 2100 1369 2101 1369 2101 1369 2102 1369 2102 1369 2103 1369 2103 1373 2104 1373 2104 1371 2105 1371 2105 1369 2106 1369 2106 1367 2107 1367 2107 1345 2108 1345 2108 1345 2109 1345 2109 1364 2110 1364 2110 1366 2111 1366 2111 1368 2112 1368 2112 1356 2113 1356 2113 1356 2114 1356 2114 1370 2115 1370 2115 1370 2116 1370 2116 1371 2117 1371 2117 1371 2118 1371 2118 1371 2119 1371 2119 1372 2120 1372 2120 1371 2121 1371 2121 1371 2122 1371 2122 1371 2123 1371 2123 1376 2124 1376 2124 1374 2125 1374 2125 1372 2126 1372 2126 1355 2127 1355 2127 1355 2128 1355 2128 1370 2129 1370 2129 1353 2130 1353 2130 1353 2131 1353 2131 1370 2132 1370 2132 1370 2133 1370 2133 1370 2134 1370 2134 1370 2135 1370 2135 1370 2136 1370 2136 1370 2137 1370 2137 1368 2138 1368 2138 1363 2139 1363 2139 1363 2140 1363 2140 1362 2141 1362 2141 1360 2142 1360 2142 1359 2143 1359 2143 1354 2144 1354 2144 1323 2145 1323 2145 1323 2146 1323 2146 1352 2147 1352 2147 1348 2148 1348 2148 1328 2149 1328 2149 1328 2150 1328 2150 1347 2151 1347 2151 1346 2152 1346 2152 1344 2153 1344 2153 1328 2154 1328 2154 1328 2155 1328 2155 1341 2156 1341 2156 1342 2157 1342 2157 1342 2158 1342 2158 1343 2159 1343 2159 1329 2160 1329 2160 1324 2161 1324 2161 1324 2162 1324 2162 1320 2163 1320 2163 1320 2164 1320 2164 1329 2165 1329 2165 1328 2166 1328 2166 1321 2167 1321 2167 1313 2168 1313 2168 1305 2169 1305 2169 1282 2170 1282 2170 1282 2171 1282 2171 1282 2172 1282 2172 1297 2173 1297 2173 1303 2174 1303 2174 1307 2175 1307 2175 1275 2176 1275 2176 1274 2177 1274 2177 1274 2178 1274 2178 1288 2179 1288 2179 1288 2180 1288 2180 1300 2181 1300 2181 1291 2182 1291 2182 1277 2183 1277 2183 1273 2184 1273 2184 1273 2185 1273 2185 1204 2186 1204 2186 1204 2187 1204 2187 1281 2188 1281 2188 1262 2189 1262 2189 1260 2190 1260 2190 1260 2191 1260 2191 1281 2192 1281 2192 1272 2193 1272 2193 1245 2194 1245 2194 1245 2195 1245 2195 1278 2196 1278 2196 1286 2197 1286 2197 1275 2198 1275 2198 1275 2199 1275 2199 1250 2200 1250 2200 1250 2201 1250 2201 1268 2202 1268 2202 1258 2203 1258 2203 1258 2204 1258 2204 1264 2205 1264 2205 1249 2206 1249 2206 1249 2207 1249 2207 1277 2208 1277 2208 1277 2209 1277 2209 1250 2210 1250 2210 1250 2211 1250 2211 1257 2212 1257 2212 1276 2213 1276 2213 1279 2214 1279 2214 1281 2215 1281 2215 1295 2216 1295 2216 1284 2217 1284 2217 1249 2218 1249 2218 1249 2219 1249 2219 1287 2220 1287 2220 1290 2221 1290 2221 1289 2222 1289 2222 1283 2223 1283 2223 1278 2224 1278 2224 1262 2225 1262 2225 1262 2226 1262 2226 1294 2227 1294 2227 1281 2228 1281 2228 1268 2229 1268 2229 1248 2230 1248 2230 1245 2231 1245 2231 1245 2232 1245 2232 1260 2233 1260 2233 1260 2234 1260 2234 1253 2235 1253 2235 1253 2236 1253 2236 1261 2237 1261 2237 1252 2238 1252 2238 1251 2239 1251 2239 1249 2240 1249 2240 1249 2241 1249 2241 1253 2242 1253 2242 1258 2243 1258 2243 1259 2244 1259 2244 1244 2245 1244 2245 1244 2246 1244 2246 1268 2247 1268 2247 1268 2248 1268 2248 1263 2249 1263 2249 1259 2250 1259 2250 1252 2251 1252 2251 1247 2252 1247 2252 1240 2253 1240 2253 1216 2254 1216 2254 1216 2255 1216 2255 1239 2256 1239 2256 1247 2257 1247 2257 1258 2258 1258 2258 1242 2259 1242 2259 1242 2260 1242 2260 1260 2261 1260 2261 1247 2262 1247 2262 1247 2263 1247 2263 1257 2264 1257 2264 1274 2265 1274 2265 1295 2266 1295 2266 1293 2267 1293 2267 1293 2268 1293 2268 1292 2269 1292 2269 1281 2270 1281 2270 1281 2271 1281 2271 1282 2272 1282 2272 1240 2273 1240 2273 1240 2274 1240 2274 1245 2275 1245 2275 1216 2276 1216 2276 1216 2277 1216 2277 1226 2278 1226 2278 1226 2279 1226 2279 1226 2280 1226 2280 1226 2281 1226 2281 1216 2282 1216 2282 1216 2283 1216 2283 1239 2284 1239 2284 1244 2285 1244 2285 1246 2286 1246 2286 1235 2287 1235 2287 1233 2288 1233 2288 1202 2289 1202 2289 1202 2290 1202 2290 1223 2291 1223 2291 1222 2292 1222 2292 1214 2293 1214 2293 1214 2294 1214 2294 1219 2295 1219 2295 1225 2296 1225 2296 1229 2297 1229 2297 1232 2298 1232 2298 1234 2299 1234 2299 1234 2300 1234 2300 1226 2301 1226 2301 1226 2302 1226 2302 1218 2303 1218 2303 1218 2304 1218 2304 1233 2305 1233 2305 1241 2306 1241 2306 1248 2307 1248 2307 1249 2308 1249 2308 1260 2309 1260 2309 1271 2310 1271 2310 1275 2311 1275 2311 1275 2312 1275 2312 1268 2313 1268 2313 1265 2314 1265 2314 1252 2315 1252 2315 1252 2316 1252 2316 1262 2317 1262 2317 1266 2318 1266 2318 1260 2319 1260 2319 1260 2320 1260 2320 1258 2321 1258 2321 1256 2322 1256 2322 1250 2323 1250 2323 1243 2324 1243 2324 1242 2325 1242 2325 1242 2326 1242 2326 1239 2327 1239 2327 1233 2328 1233 2328 1231 2329 1231 2329 1212 2330 1212 2330 1212 2331 1212 2331 1238 2332 1238 2332 1232 2333 1232 2333 1224 2334 1224 2334 1214 2335 1214 2335 1203 2336 1203 2336 1203 2337 1203 2337 1213 2338 1213 2338 1216 2339 1216 2339 1221 2340 1221 2340 1223 2341 1223 2341 1223 2342 1223 2342 1229 2343 1229 2343 1234 2344 1234 2344 1250 2345 1250 2345 1255 2346 1255 2346 1252 2347 1252 2347 1247 2348 1247 2348 1241 2349 1241 2349 1241 2350 1241 2350 1241 2351 1241 2351 1246 2352 1246 2352 1253 2353 1253 2353 1261 2354 1261 2354 1261 2355 1261 2355 1261 2356 1261 2356 1263 2357 1263 2357 1256 2358 1256 2358 1256 2359 1256 2359 1259 2360 1259 2360 1268 2361 1268 2361 1270 2362 1270 2362 1272 2363 1272 2363 1269 2364 1269 2364 1261 2365 1261 2365 1261 2366 1261 2366 1268 2367 1268 2367 1271 2368 1271 2368 1275 2369 1275 2369 1278 2370 1278 2370 1278 2371 1278 2371 1278 2372 1278 2372 1278 2373 1278 2373 1278 2374 1278 2374 1246 2375 1246 2375 1246 2376 1246 2376 1263 2377 1263 2377 1263 2378 1263 2378 1264 2379 1264 2379 1250 2380 1250 2380 1250 2381 1250 2381 1270 2382 1270 2382 1257 2383 1257 2383 1249 2384 1249 2384 1243 2385 1243 2385 1229 2386 1229 2386 1229 2387 1229 2387 1238 2388 1238 2388 1232 2389 1232 2389 1212 2390 1212 2390 1212 2391 1212 2391 1214 2392 1214 2392 1208 2393 1208 2393 1201 2394 1201 2394 1160 2395 1160 2395 1160 2396 1160 2396 1207 2397 1207 2397 1207 2398 1207 2398 1199 2399 1199 2399 1199 2400 1199 2400 1227 2401 1227 2401 1205 2402 1205 2402 1205 2403 1205 2403 1225 2404 1225 2404 1222 2405 1222 2405 1221 2406 1221 2406 1212 2407 1212 2407 1200 2408 1200 2408 1200 2409 1200 2409 1217 2410 1217 2410 1220 2411 1220 2411 1225 2412 1225 2412 1227 2413 1227 2413 1227 2414 1227 2414 1218 2415 1218 2415 1218 2416 1218 2416 1220 2417 1220 2417 1217 2418 1217 2418 1217 2419 1217 2419 1220 2420 1220 2420 1213 2421 1213 2421 1209 2422 1209 2422 1209 2423 1209 2423 1216 2424 1216 2424 1216 2425 1216 2425 1216 2426 1216 2426 1216 2427 1216 2427 1222 2428 1222 2428 1227 2429 1227 2429 1231 2430 1231 2430 1225 2431 1225 2431 1224 2432 1224 2432 1224 2433 1224 2433 1233 2434 1233 2434 1233 2435 1233 2435 1211 2436 1211 2436 1211 2437 1211 2437 1223 2438 1223 2438 1242 2439 1242 2439 1242 2440 1242 2440 1248 2441 1248 2441 1225 2442 1225 2442 1225 2443 1225 2443 1248 2444 1248 2444 1249 2445 1249 2445 1254 2446 1254 2446 1259 2447 1259 2447 1266 2448 1266 2448 1263 2449 1263 2449 1259 2450 1259 2450 1241 2451 1241 2451 1241 2452 1241 2452 1248 2453 1248 2453 1230 2454 1230 2454 1230 2455 1230 2455 1256 2456 1256 2456 1251 2457 1251 2457 1249 2458 1249 2458 1247 2459 1247 2459 1247 2460 1247 2460 1247 2461 1247 2461 1247 2462 1247 2462 1233 2463 1233 2463 1233 2464 1233 2464 1249 2465 1249 2465 1223 2466 1223 2466 1223 2467 1223 2467 1240 2468 1240 2468 1240 2469 1240 2469 1245 2470 1245 2470 1245 2471 1245 2471 1243 2472 1243 2472 1243 2473 1243 2473 1247 2474 1247 2474 1246 2475 1246 2475 1244 2476 1244 2476 1244 2477 1244 2477 1248 2478 1248 2478 1242 2479 1242 2479 1242 2480 1242 2480 1248 2481 1248 2481 1250 2482 1250 2482 1252 2483 1252 2483 1244 2484 1244 2484 1244 2485 1244 2485 1254 2486 1254 2486 1230 2487 1230 2487 1230 2488 1230 2488 1262 2489 1262 2489 1266 2490 1266 2490 1258 2491 1258 2491 1258 2492 1258 2492 1260 2493 1260 2493 1254 2494 1254 2494 1228 2495 1228 2495 1228 2496 1228 2496 1261 2497 1261 2497 1262 2498 1262 2498 1262 2499 1262 2499 1265 2500 1265 2500 1265 2501 1265 2501 1255 2502 1255 2502 1253 2503 1253 2503 1253 2504 1253 2504 1258 2505 1258 2505 1257 2506 1257 2506 1257 2507 1257 2507 1257 2508 1257 2508 1233 2509 1233 2509 1233 2510 1233 2510 1247 2511 1247 2511 1247 2512 1247 2512 1234 2513 1234 2513 1234 2514 1234 2514 1233 2515 1233 2515 1233 2516 1233 2516 1241 2517 1241 2517 1259 2518 1259 2518 1257 2519 1257 2519 1254 2520 1254 2520 1254 2521 1254 2521 1250 2522 1250 2522 1250 2523 1250 2523 1250 2524 1250 2524 1250 2525 1250 2525 1241 2526 1241 2526 1241 2527 1241 2527 1268 2528 1268 2528 1261 2529 1261 2529 1261 2530 1261 2530 1266 2531 1266 2531 1257 2532 1257 2532 1257 2533 1257 2533 1253 2534 1253 2534 1253 2535 1253 2535 1248 2536 1248 2536 1248 2537 1248 2537 1255 2538 1255 2538 1256 2539 1256 2539 1256 2540 1256 2540 1259 2541 1259 2541 1256 2542 1256 2542 1246 2543 1246 2543 1246 2544 1246 2544 1251 2545 1251 2545 1246 2546 1246 2546 1242 2547 1242 2547 1241 2548 1241 2548 1238 2549 1238 2549 1231 2550 1231 2550 1231 2551 1231 2551 1221 2552 1221 2552 1220 2553 1220 2553 1216 2554 1216 2554 1191 2555 1191 2555 1191 2556 1191 2556 1211 2557 1211 2557 1209 2558 1209 2558 1192 2559 1192 2559 1192 2560 1192 2560 1205 2561 1205 2561 1204 2562 1204 2562 1201 2563 1201 2563 1200 2564 1200 2564 1196 2565 1196 2565 1195 2566 1195 2566 1195 2567 1195 2567 1206 2568 1206 2568 1202 2569 1202 2569 1193 2570 1193 2570 1160 2571 1160 2571 1160 2572 1160 2572 1187 2573 1187 2573 1195 2574 1195 2574 1179 2575 1179 2575 1179 2576 1179 2576 1200 2577 1200 2577 1195 2578 1195 2578 1185 2579 1185 2579 1185 2580 1185 2580 1186 2581 1186 2581 1185 2582 1185 2582 1179 2583 1179 2583 1179 2584 1179 2584 1173 2585 1173 2585 1173 2586 1173 2586 1151 2587 1151 2587 1151 2588 1151 2588 1182 2589 1182 2589 1182 2590 1182 2590 1182 2591 1182 2591 1184 2592 1184 2592 1181 2593 1181 2593 1181 2594 1181 2594 1187 2595 1187 2595 1187 2596 1187 2596 1193 2597 1193 2597 1204 2598 1204 2598 1200 2599 1200 2599 1184 2600 1184 2600 1184 2601 1184 2601 1191 2602 1191 2602 1170 2603 1170 2603 1170 2604 1170 2604 1182 2605 1182 2605 1159 2606 1159 2606 1159 2607 1159 2607 1158 2608 1158 2608 1158 2609 1158 2609 1181 2610 1181 2610 1181 2611 1181 2611 1185 2612 1185 2612 1163 2613 1163 2613 1163 2614 1163 2614 1181 2615 1181 2615 1185 2616 1185 2616 1193 2617 1193 2617 1197 2618 1197 2618 1206 2619 1206 2619 1214 2620 1214 2620 1207 2621 1207 2621 1205 2622 1205 2622 1202 2623 1202 2623 1199 2624 1199 2624 1196 2625 1196 2625 1196 2626 1196 2626 1211 2627 1211 2627 1212 2628 1212 2628 1215 2629 1215 2629 1215 2630 1215 2630 1220 2631 1220 2631 1196 2632 1196 2632 1196 2633 1196 2633 1217 2634 1217 2634 1184 2635 1184 2635 1184 2636 1184 2636 1184 2637 1184 2637 1212 2638 1212 2638 1213 2639 1213 2639 1216 2640 1216 2640 1213 2641 1213 2641 1213 2642 1213 2642 1224 2643 1224 2643 1223 2644 1223 2644 1219 2645 1219 2645 1213 2646 1213 2646 1213 2647 1213 2647 1214 2648 1214 2648 1222 2649 1222 2649 1226 2650 1226 2650 1217 2651 1217 2651 1211 2652 1211 2652 1211 2653 1211 2653 1225 2654 1225 2654 1221 2655 1221 2655 1195 2656 1195 2656 1195 2657 1195 2657 1194 2658 1194 2658 1194 2659 1194 2659 1223 2660 1223 2660 1206 2661 1206 2661 1206 2662 1206 2662 1227 2663 1227 2663 1229 2664 1229 2664 1209 2665 1209 2665 1209 2666 1209 2666 1231 2667 1231 2667 1214 2668 1214 2668 1214 2669 1214 2669 1235 2670 1235 2670 1238 2671 1238 2671 1233 2672 1233 2672 1233 2673 1233 2673 1232 2674 1232 2674 1232 2675 1232 2675 1249 2676 1249 2676 1263 2677 1263 2677 1261 2678 1261 2678 1252 2679 1252 2679 1252 2680 1252 2680 1261 2681 1261 2681 1262 2682 1262 2682 1262 2683 1262 2683 1250 2684 1250 2684 1221 2685 1221 2685 1221 2686 1221 2686 1223 2687 1223 2687 1232 2688 1232 2688 1232 2689 1232 2689 1212 2690 1212 2690 1212 2691 1212 2691 1239 2692 1239 2692 1224 2693 1224 2693 1224 2694 1224 2694 1210 2695 1210 2695 1210 2696 1210 2696 1216 2697 1216 2697 1216 2698 1216 2698 1221 2699 1221 2699 1221 2700 1221 2700 1223 2701 1223 2701 1231 2702 1231 2702 1224 2703 1224 2703 1224 2704 1224 2704 1231 2705 1231 2705 1224 2706 1224 2706 1212 2707 1212 2707 1212 2708 1212 2708 1230 2709 1230 2709 1226 2710 1226 2710 1226 2711 1226 2711 1242 2712 1242 2712 1244 2713 1244 2713 1245 2714 1245 2714 1245 2715 1245 2715 1245 2716 1245 2716 1245 2717 1245 2717 1253 2718 1253 2718 1245 2719 1245 2719 1233 2720 1233 2720 1225 2721 1225 2721 1219 2722 1219 2722 1213 2723 1213 2723 1179 2724 1179 2724 1179 2725 1179 2725 1211 2726 1211 2726 1214 2727 1214 2727 1216 2728 1216 2728 1218 2729 1218 2729 1217 2730 1217 2730 1217 2731 1217 2731 1217 2732 1217 2732 1224 2733 1224 2733 1205 2734 1205 2734 1205 2735 1205 2735 1242 2736 1242 2736 1233 2737 1233 2737 1233 2738 1233 2738 1253 2739 1253 2739 1254 2740 1254 2740 1251 2741 1251 2741 1231 2742 1231 2742 1231 2743 1231 2743 1244 2744 1244 2744 1228 2745 1228 2745 1228 2746 1228 2746 1245 2747 1245 2747 1254 2748 1254 2748 1254 2749 1254 2749 1257 2750 1257 2750 1243 2751 1243 2751 1243 2752 1243 2752 1256 2753 1256 2753 1255 2754 1255 2754 1255 2755 1255 2755 1236 2756 1236 2756 1236 2757 1236 2757 1254 2758 1254 2758 1241 2759 1241 2759 1241 2760 1241 2760 1252 2761 1252 2761 1238 2762 1238 2762 1238 2763 1238 2763 1250 2764 1250 2764 1246 2765 1246 2765 1246 2766 1246 2766 1247 2767 1247 2767 1245 2768 1245 2768 1242 2769 1242 2769 1219 2770 1219 2770 1219 2771 1219 2771 1251 2772 1251 2772 1251 2773 1251 2773 1257 2774 1257 2774 1229 2775 1229 2775 1229 2776 1229 2776 1242 2777 1242 2777 1242 2778 1242 2778 1257 2779 1257 2779 1246 2780 1246 2780 1246 2781 1246 2781 1258 2782 1258 2782 1253 2783 1253 2783 1250 2784 1250 2784 1249 2785 1249 2785 1249 2786 1249 2786 1252 2787 1252 2787 1252 2788 1252 2788 1254 2789 1254 2789 1227 2790 1227 2790 1227 2791 1227 2791 1243 2792 1243 2792 1254 2793 1254 2793 1242 2794 1242 2794 1242 2795 1242 2795 1238 2796 1238 2796 1238 2797 1238 2797 1252 2798 1252 2798 1254 2799 1254 2799 1255 2800 1255 2800 1259 2801 1259 2801 1260 2802 1260 2802 1260 2803 1260 2803 1267 2804 1267 2804 1267 2805 1267 2805 1267 2806 1267 2806 1246 2807 1246 2807 1246 2808 1246 2808 1267 2809 1267 2809 1271 2810 1271 2810 1279 2811 1279 2811 1273 2812 1273 2812 1273 2813 1273 2813 1263 2814 1263 2814 1263 2815 1263 2815 1271 2816 1271 2816 1277 2817 1277 2817 1250 2818 1250 2818 1250 2819 1250 2819 1287 2820 1287 2820 1288 2821 1288 2821 1283 2822 1283 2822 1283 2823 1283 2823 1281 2824 1281 2824 1281 2825 1281 2825 1282 2826 1282 2826 1285 2827 1285 2827 1285 2828 1285 2828 1276 2829 1276 2829 1276 2830 1276 2830 1283 2831 1283 2831 1286 2832 1286 2832 1287 2833 1287 2833 1261 2834 1261 2834 1261 2835 1261 2835 1286 2836 1286 2836 1256 2837 1256 2837 1256 2838 1256 2838 1278 2839 1278 2839 1282 2840 1282 2840 1283 2841 1283 2841 1286 2842 1286 2842 1284 2843 1284 2843 1259 2844 1259 2844 1258 2845 1258 2845 1258 2846 1258 2846 1261 2847 1261 2847 1261 2848 1261 2848 1267 2849 1267 2849 1267 2850 1267 2850 1285 2851 1285 2851 1285 2852 1285 2852 1290 2853 1290 2853 1289 2854 1289 2854 1246 2855 1246 2855 1246 2856 1246 2856 1272 2857 1272 2857 1284 2858 1284 2858 1285 2859 1285 2859 1285 2860 1285 2860 1288 2861 1288 2861 1288 2862 1288 2862 1292 2863 1292 2863 1293 2864 1293 2864 1288 2865 1288 2865 1288 2866 1288 2866 1289 2867 1289 2867 1284 2868 1284 2868 1270 2869 1270 2869 1270 2870 1270 2870 1288 2871 1288 2871 1290 2872 1290 2872 1287 2873 1287 2873 1287 2874 1287 2874 1287 2875 1287 2875 1287 2876 1287 2876 1286 2877 1286 2877 1269 2878 1269 2878 1269 2879 1269 2879 1283 2880 1283 2880 1278 2881 1278 2881 1278 2882 1278 2882 1283 2883 1283 2883 1283 2884 1283 2884 1255 2885 1255 2885 1255 2886 1255 2886 1275 2887 1275 2887 1275 2888 1275 2888 1267 2889 1267 2889 1267 2890 1267 2890 1268 2891 1268 2891 1269 2892 1269 2892 1274 2893 1274 2893 1266 2894 1266 2894 1260 2895 1260 2895 1245 2896 1245 2896 1245 2897 1245 2897 1258 2898 1258 2898 1242 2899 1242 2899 1242 2900 1242 2900 1254 2901 1254 2901 1251 2902 1251 2902 1251 2903 1251 2903 1269 2904 1269 2904 1273 2905 1273 2905 1268 2906 1268 2906 1268 2907 1268 2907 1265 2908 1265 2908 1259 2909 1259 2909 1259 2910 1259 2910 1261 2911 1261 2911 1267 2912 1267 2912 1244 2913 1244 2913 1244 2914 1244 2914 1259 2915 1259 2915 1275 2916 1275 2916 1271 2917 1271 2917 1269 2918 1269 2918 1269 2919 1269 2919 1257 2920 1257 2920 1257 2921 1257 2921 1284 2922 1284 2922 1284 2923 1284 2923 1281 2924 1281 2924 1280 2925 1280 2925 1278 2926 1278 2926 1278 2927 1278 2927 1270 2928 1270 2928 1270 2929 1270 2929 1302 2928 1302 2928 1327 2927 1327 2927 1327 2926 1327 2926 1310 2925 1310 2925 1307 2924 1307 2924 1303 2923 1303 2923 1305 2922 1305 2922 1327 2921 1327 2921 1327 2920 1327 2920 1308 2919 1308 2919 1297 2918 1297 2918 1291 2917 1291 2917 1305 2916 1305 2916 1305 2915 1305 2915 1296 2914 1296 2914 1301 2913 1301 2913 1301 2912 1301 2912 1286 2911 1286 2911 1292 2910 1292 2910 1306 2909 1306 2909 1306 2908 1306 2908 1285 2907 1285 2907 1294 2906 1294 2906 1294 2905 1294 2905 1293 2904 1293 2904 1291 2903 1291 2903 1314 2902 1314 2902 1314 2901 1314 2901 1289 2900 1289 2900 1288 2899 1288 2899 1321 2898 1321 2898 1321 2897 1321 2897 1283 2896 1283 2896 1283 2895 1283 2895 1286 2894 1286 2894 1292 2893 1292 2893 1316 2892 1316 2892 1316 2891 1316 2891 1295 2890 1295 2890 1295 2889 1295 2889 1332 2888 1332 2888 1332 2887 1332 2887 1299 2886 1299 2886 1309 2885 1309 2885 1317 2884 1317 2884 1317 2883 1317 2883 1307 2882 1307 2882 1330 2881 1330 2881 1330 2880 1330 2880 1324 2879 1324 2879 1324 2878 1324 2878 1306 2877 1306 2877 1303 2876 1303 2876 1304 2875 1304 2875 1306 2874 1306 2874 1314 2873 1314 2873 1320 2872 1320 2872 1320 2871 1320 2871 1308 2870 1308 2870 1308 2869 1308 2869 1303 2868 1303 2868 1312 2867 1312 2867 1312 2866 1312 2866 1356 2865 1356 2865 1356 2864 1356 2864 1343 2863 1343 2863 1343 2862 1343 2862 1315 2861 1315 2861 1315 2860 1315 2860 1309 2859 1309 2859 1305 2858 1305 2858 1319 2857 1319 2857 1319 2856 1319 2856 1304 2855 1304 2855 1335 2854 1335 2854 1335 2853 1335 2853 1318 2852 1318 2852 1318 2851 1318 2851 1322 2850 1322 2850 1322 2849 1322 2849 1307 2848 1307 2848 1309 2847 1309 2847 1309 2846 1309 2846 1305 2845 1305 2845 1309 2844 1309 2844 1310 2843 1310 2843 1317 2842 1317 2842 1317 2841 1317 2841 1307 2840 1307 2840 1303 2839 1303 2839 1303 2838 1303 2838 1300 2837 1300 2837 1304 2836 1304 2836 1320 2835 1320 2835 1320 2834 1320 2834 1318 2833 1318 2833 1313 2832 1313 2832 1313 2831 1313 2831 1304 2830 1304 2830 1344 2829 1344 2829 1344 2828 1344 2828 1304 2827 1304 2827 1309 2826 1309 2826 1320 2825 1320 2825 1320 2824 1320 2824 1323 2823 1323 2823 1323 2822 1323 2822 1318 2821 1318 2821 1333 2820 1333 2820 1352 2819 1352 2819 1352 2818 1352 2818 1339 2817 1339 2817 1339 2816 1339 2816 1295 2815 1295 2815 1304 2814 1304 2814 1304 2813 1304 2813 1298 2812 1298 2812 1320 2811 1320 2811 1341 2810 1341 2810 1341 2809 1341 2809 1303 2808 1303 2808 1297 2807 1297 2807 1291 2806 1291 2806 1293 2805 1293 2805 1293 2804 1293 2804 1287 2803 1287 2803 1289 2802 1289 2802 1297 2801 1297 2801 1297 2800 1297 2800 1284 2799 1284 2799 1281 2798 1281 2798 1273 2797 1273 2797 1279 2796 1279 2796 1279 2795 1279 2795 1274 2794 1274 2794 1273 2793 1273 2793 1311 2792 1311 2792 1311 2791 1311 2791 1281 2790 1281 2790 1277 2789 1277 2789 1282 2788 1282 2788 1299 2787 1299 2787 1299 2786 1299 2786 1287 2785 1287 2785 1268 2784 1268 2784 1276 2783 1276 2783 1294 2782 1294 2782 1294 2781 1294 2781 1283 2780 1283 2780 1296 2779 1296 2779 1296 2778 1296 2778 1301 2777 1301 2777 1301 2776 1301 2776 1284 2775 1284 2775 1284 2774 1284 2774 1300 2773 1300 2773 1300 2772 1300 2772 1291 2771 1291 2771 1288 2770 1288 2770 1288 2769 1288 2769 1268 2768 1268 2768 1268 2767 1268 2767 1309 2766 1309 2766 1309 2765 1309 2765 1268 2764 1268 2764 1290 2763 1290 2763 1290 2762 1290 2762 1291 2761 1291 2761 1291 2760 1291 2760 1287 2759 1287 2759 1287 2758 1287 2758 1280 2757 1280 2757 1270 2756 1270 2756 1271 2755 1271 2755 1275 2754 1275 2754 1286 2753 1286 2753 1286 2752 1286 2752 1279 2751 1279 2751 1275 2750 1275 2750 1275 2749 1275 2749 1275 2748 1275 2748 1281 2747 1281 2747 1281 2746 1281 2746 1277 2745 1277 2745 1277 2744 1277 2744 1262 2743 1262 2743 1268 2742 1268 2742 1268 2741 1268 2741 1278 2740 1278 2740 1278 2739 1278 2739 1299 2738 1299 2738 1299 2737 1299 2737 1290 2736 1290 2736 1268 2735 1268 2735 1268 2734 1268 2734 1268 2733 1268 2733 1252 2732 1252 2732 1254 2731 1254 2731 1254 2730 1254 2730 1239 2729 1239 2729 1239 2728 1239 2728 1238 2727 1238 2727 1235 2726 1235 2726 1233 2725 1233 2725 1229 2724 1229 2724 1242 2723 1242 2723 1264 2722 1264 2722 1264 2721 1264 2721 1264 2720 1264 2720 1263 2719 1263 2719 1289 2718 1289 2718 1289 2717 1289 2717 1273 2716 1273 2716 1273 2715 1273 2715 1321 2714 1321 2714 1321 2713 1321 2713 1308 2712 1308 2712 1312 2711 1312 2711 1312 2710 1312 2710 1254 2709 1254 2709 1281 2708 1281 2708 1294 2707 1294 2707 1294 2706 1294 2706 1261 2705 1261 2705 1252 2704 1252 2704 1258 2703 1258 2703 1258 2702 1258 2702 1250 2701 1250 2701 1299 2700 1299 2700 1299 2699 1299 2699 1265 2698 1265 2698 1265 2697 1265 2697 1261 2696 1261 2696 1261 2695 1261 2695 1261 2694 1261 2694 1261 2693 1261 2693 1263 2692 1263 2692 1277 2691 1277 2691 1277 2690 1277 2690 1260 2689 1260 2689 1260 2688 1260 2688 1260 2687 1260 2687 1285 2686 1285 2686 1285 2685 1285 2685 1281 2684 1281 2684 1284 2683 1284 2683 1298 2682 1298 2682 1318 2681 1318 2681 1318 2680 1318 2680 1284 2679 1284 2679 1289 2678 1289 2678 1289 2677 1289 2677 1294 2676 1294 2676 1312 2675 1312 2675 1312 2674 1312 2674 1281 2673 1281 2673 1276 2672 1276 2672 1286 2671 1286 2671 1286 2670 1286 2670 1262 2669 1262 2669 1254 2668 1254 2668 1252 2667 1252 2667 1252 2666 1252 2666 1279 2665 1279 2665 1281 2664 1281 2664 1284 2663 1284 2663 1297 2662 1297 2662 1297 2661 1297 2661 1249 2660 1249 2660 1244 2659 1244 2659 1244 2658 1244 2658 1251 2657 1251 2657 1267 2656 1267 2656 1267 2655 1267 2655 1251 2654 1251 2654 1247 2653 1247 2653 1248 2652 1248 2652 1264 2651 1264 2651 1264 2650 1264 2650 1253 2649 1253 2649 1253 2648 1253 2648 1238 2647 1238 2647 1234 2646 1234 2646 1250 2645 1250 2645 1252 2644 1252 2644 1266 2643 1266 2643 1266 2642 1266 2642 1247 2641 1247 2641 1251 2640 1251 2640 1251 2639 1251 2639 1270 2638 1270 2638 1270 2637 1270 2637 1284 2636 1284 2636 1284 2635 1284 2635 1249 2634 1249 2634 1249 2633 1249 2633 1248 2632 1248 2632 1248 2631 1248 2631 1239 2630 1239 2630 1283 2629 1283 2629 1283 2628 1283 2628 1242 2627 1242 2627 1244 2626 1244 2626 1244 2625 1244 2625 1225 2624 1225 2624 1222 2623 1222 2623 1226 2622 1226 2622 1280 2621 1280 2621 1280 2620 1280 2620 1240 2619 1240 2619 1240 2618 1240 2618 1226 2617 1226 2617 1218 2616 1218 2616 1214 2615 1214 2615 1206 2614 1206 2614 1201 2613 1201 2613 1205 2612 1205 2612 1277 2611 1277 2611 1277 2610 1277 2610 1240 2609 1240 2609 1226 2608 1226 2608 1226 2607 1226 2607 1225 2606 1225 2606 1225 2605 1225 2605 1209 2604 1209 2604 1209 2603 1209 2603 1221 2602 1221 2602 1221 2601 1221 2601 1269 2600 1269 2600 1269 2599 1269 2599 1261 2598 1261 2598 1261 2597 1261 2597 1227 2596 1227 2596 1229 2595 1229 2595 1229 2594 1229 2594 1242 2593 1242 2593 1242 2592 1242 2592 1207 2591 1207 2591 1207 2590 1207 2590 1206 2589 1206 2589 1211 2588 1211 2588 1211 2587 1211 2587 1218 2586 1218 2586 1218 2585 1218 2585 1212 2584 1212 2584 1219 2583 1219 2583 1219 2582 1219 2582 1219 2581 1219 2581 1259 2580 1259 2580 1259 2579 1259 2579 1232 2578 1232 2578 1232 2577 1232 2577 1223 2576 1223 2576 1239 2575 1239 2575 1239 2574 1239 2574 1216 2573 1216 2573 1213 2572 1213 2572 1213 2571 1213 2571 1214 2570 1214 2570 1224 2569 1224 2569 1224 2568 1224 2568 1228 2567 1228 2567 1228 2566 1228 2566 1227 2565 1227 2565 1266 2564 1266 2564 1266 2563 1266 2563 1236 2562 1236 2562 1236 2561 1236 2561 1231 2560 1231 2560 1231 2559 1231 2559 1231 2558 1231 2558 1230 2557 1230 2557 1232 2556 1232 2556 1286 2555 1286 2555 1289 2554 1289 2554 1289 2553 1289 2553 1248 2552 1248 2552 1255 2551 1255 2551 1279 2550 1279 2550 1308 2549 1308 2549 1308 2548 1308 2548 1278 2547 1278 2547 1278 2546 1278 2546 1270 2545 1270 2545 1315 2544 1315 2544 1315 2543 1315 2543 1311 2542 1311 2542 1303 2541 1303 2541 1303 2540 1303 2540 1328 2539 1328 2539 1328 2538 1328 2538 1280 2537 1280 2537 1282 2536 1282 2536 1312 2535 1312 2535 1312 2534 1312 2534 1311 2533 1311 2533 1341 2532 1341 2532 1341 2531 1341 2531 1306 2530 1306 2530 1347 2529 1347 2529 1347 2528 1347 2528 1293 2527 1293 2527 1289 2526 1289 2526 1287 2525 1287 2525 1278 2524 1278 2524 1281 2523 1281 2523 1301 2522 1301 2522 1301 2521 1301 2521 1278 2520 1278 2520 1287 2519 1287 2519 1296 2518 1296 2518 1296 2517 1296 2517 1286 2516 1286 2516 1286 2515 1286 2515 1283 2514 1283 2514 1282 2513 1282 2513 1282 2512 1282 2512 1272 2511 1272 2511 1265 2510 1265 2510 1270 2509 1270 2509 1280 2508 1280 2508 1299 2507 1299 2507 1308 2506 1308 2506 1308 2505 1308 2505 1297 2504 1297 2504 1288 2503 1288 2503 1287 2502 1287 2502 1285 2501 1285 2501 1294 2500 1294 2500 1294 2499 1294 2499 1290 2498 1290 2498 1290 2497 1290 2497 1284 2496 1284 2496 1284 2495 1284 2495 1302 2494 1302 2494 1302 2493 1302 2493 1298 2492 1298 2492 1287 2491 1287 2491 1286 2490 1286 2490 1308 2489 1308 2489 1308 2488 1308 2488 1296 2487 1296 2487 1278 2486 1278 2486 1277 2485 1277 2485 1281 2484 1281 2484 1281 2483 1281 2483 1270 2482 1270 2482 1273 2481 1273 2481 1273 2480 1273 2480 1310 2479 1310 2479 1310 2478 1310 2478 1286 2477 1286 2477 1275 2476 1275 2476 1295 2475 1295 2475 1295 2474 1295 2474 1281 2473 1281 2473 1265 2472 1265 2472 1306 2471 1306 2471 1320 2470 1320 2470 1320 2469 1320 2469 1270 2468 1270 2468 1271 2467 1271 2467 1282 2466 1282 2466 1282 2465 1282 2465 1278 2464 1278 2464 1273 2463 1273 2463 1269 2462 1269 2462 1288 2461 1288 2461 1288 2460 1288 2460 1265 2459 1265 2459 1271 2458 1271 2458 1277 2457 1277 2457 1285 2456 1285 2456 1285 2455 1285 2455 1287 2454 1287 2454 1287 2453 1287 2453 1274 2452 1274 2452 1276 2451 1276 2451 1289 2450 1289 2450 1289 2449 1289 2449 1284 2448 1284 2448 1285 2447 1285 2447 1296 2446 1296 2446 1296 2445 1296 2445 1275 2444 1275 2444 1271 2443 1271 2443 1282 2442 1282 2442 1282 2441 1282 2441 1282 2440 1282 2440 1269 2439 1269 2439 1269 2438 1269 2438 1275 2437 1275 2437 1275 2436 1275 2436 1260 2435 1260 2435 1305 2434 1305 2434 1305 2433 1305 2433 1306 2432 1306 2432 1306 2431 1306 2431 1269 2430 1269 2430 1260 2429 1260 2429 1256 2428 1256 2428 1252 2427 1252 2427 1261 2426 1261 2426 1261 2425 1261 2425 1239 2424 1239 2424 1241 2423 1241 2423 1247 2422 1247 2422 1247 2421 1247 2421 1286 2420 1286 2420 1288 2419 1288 2419 1288 2418 1288 2418 1245 2417 1245 2417 1246 2416 1246 2416 1250 2415 1250 2415 1254 2414 1254 2414 1254 2413 1254 2413 1246 2412 1246 2412 1245 2411 1245 2411 1247 2410 1247 2410 1251 2409 1251 2409 1255 2408 1255 2408 1255 2407 1255 2407 1238 2406 1238 2406 1241 2405 1241 2405 1247 2404 1247 2404 1247 2403 1247 2403 1267 2402 1267 2402 1267 2401 1267 2401 1267 2400 1267 2400 1286 2399 1286 2399 1286 2398 1286 2398 1267 2397 1267 2397 1265 2396 1265 2396 1230 2395 1230 2395 1218 2394 1218 2394 1227 2393 1227 2393 1245 2392 1245 2392 1245 2391 1245 2391 1258 2390 1258 2390 1258 2389 1258 2389 1257 2388 1257 2388 1273 2387 1273 2387 1273 2386 1273 2386 1267 2385 1267 2385 1277 2384 1277 2384 1277 2383 1277 2383 1287 2382 1287 2382 1299 2381 1299 2381 1349 2380 1349 2380 1349 2379 1349 2379 1343 2378 1343 2378 1340 2377 1340 2377 1342 2376 1342 2376 1342 2375 1342 2375 1345 2374 1345 2374 1345 2373 1345 2373 1325 2372 1325 2372 1300 2371 1300 2371 1331 2370 1331 2370 1331 2369 1331 2369 1302 2368 1302 2368 1302 2367 1302 2367 1299 2366 1299 2366 1292 2365 1292 2365 1292 2364 1292 2364 1300 2363 1300 2363 1300 2362 1300 2362 1294 2361 1294 2361 1294 2360 1294 2360 1290 2359 1290 2359 1296 2358 1296 2358 1296 2357 1296 2357 1333 2356 1333 2356 1333 2355 1333 2355 1287 2354 1287 2354 1287 2353 1287 2353 1319 2352 1319 2352 1319 2351 1319 2351 1282 2350 1282 2350 1282 2349 1282 2349 1284 2348 1284 2348 1284 2347 1284 2347 1275 2346 1275 2346 1323 2345 1323 2345 1323 2344 1323 2344 1297 2343 1297 2343 1264 2342 1264 2342 1256 2341 1256 2341 1252 2340 1252 2340 1257 2339 1257 2339 1257 2338 1257 2338 1234 2337 1234 2337 1256 2336 1256 2336 1256 2335 1256 2335 1243 2334 1243 2334 1252 2333 1252 2333 1261 2332 1261 2332 1261 2331 1261 2331 1319 2330 1319 2330 1319 2329 1319 2329 1254 2328 1254 2328 1254 2327 1254 2327 1274 2326 1274 2326 1274 2325 1274 2325 1271 2324 1271 2324 1271 2323 1271 2323 1274 2322 1274 2322 1277 2321 1277 2321 1292 2320 1292 2320 1292 2319 1292 2319 1287 2318 1287 2318 1289 2317 1289 2317 1290 2316 1290 2316 1292 2315 1292 2315 1305 2314 1305 2314 1305 2313 1305 2313 1325 2312 1325 2312 1325 2311 1325 2311 1310 2310 1310 2310 1296 2309 1296 2309 1295 2308 1295 2308 1296 2307 1296 2307 1296 2306 1296 2306 1268 2305 1268 2305 1260 2304 1260 2304 1254 2303 1254 2303 1251 2302 1251 2302 1301 2301 1301 2301 1301 2300 1301 2300 1259 2299 1259 2299 1259 2298 1259 2298 1258 2297 1258 2297 1258 2296 1258 2296 1247 2295 1247 2295 1242 2294 1242 2294 1235 2293 1235 2293 1248 2292 1248 2292 1262 2291 1262 2291 1274 2290 1274 2290 1274 2289 1274 2289 1279 2288 1279 2288 1279 2287 1279 2287 1296 2286 1296 2286 1296 2285 1296 2285 1271 2284 1271 2284 1266 2283 1266 2283 1266 2282 1266 2282 1261 2281 1261 2281 1257 2280 1257 2280 1260 2279 1260 2279 1305 2278 1305 2278 1305 2277 1305 2277 1316 2276 1316 2276 1316 2275 1316 2275 1284 2274 1284 2274 1291 2273 1291 2273 1310 2272 1310 2272 1310 2271 1310 2271 1311 2270 1311 2270 1361 2269 1361 2269 1361 2268 1361 2268 1315 2267 1315 2267 1336 2266 1336 2266 1336 2265 1336 2265 1365 2264 1365 2264 1365 2263 1365 2263 1313 2262 1313 2262 1313 2261 1313 2261 1293 2260 1293 2260 1293 2259 1293 2259 1288 2258 1288 2258 1288 2257 1288 2257 1275 2256 1275 2256 1291 2255 1291 2255 1293 2254 1293 2254 1293 2253 1293 2253 1278 2252 1278 2252 1310 2251 1310 2251 1310 2250 1310 2250 1284 2249 1284 2249 1284 2248 1284 2248 1295 2247 1295 2247 1295 2246 1295 2246 1293 2245 1293 2245 1291 2244 1291 2244 1291 2243 1291 2243 1279 2242 1279 2242 1274 2241 1274 2241 1273 2240 1273 2240 1321 2239 1321 2239 1342 2238 1342 2238 1342 2237 1342 2237 1298 2236 1298 2236 1285 2235 1285 2235 1302 2234 1302 2234 1304 2233 1304 2233 1304 2232 1304 2232 1308 2231 1308 2231 1325 2230 1325 2230 1325 2229 1325 2229 1316 2228 1316 2228 1317 2227 1317 2227 1324 2226 1324 2226 1356 2225 1356 2225 1356 2224 1356 2224 1332 2223 1332 2223 1332 2222 1332 2222 1328 2221 1328 2221 1328 2220 1328 2220 1313 2219 1313 2219 1306 2218 1306 2218 1304 2217 1304 2217 1322 2216 1322 2216 1329 2215 1329 2215 1330 2214 1330 2214 1370 2213 1370 2213 1370 2212 1370 2212 1298 2211 1298 2211 1294 2210 1294 2210 1300 2209 1300 2209 1350 2208 1350 2208 1350 2207 1350 2207 1343 2206 1343 2206 1302 2205 1302 2205 1290 2204 1290 2204 1299 2203 1299 2203 1299 2202 1299 2202 1293 2201 1293 2201 1298 2200 1298 2200 1302 2199 1302 2199 1359 2198 1359 2198 1359 2197 1359 2197 1355 2196 1355 2196 1310 2195 1310 2195 1304 2194 1304 2194 1316 2193 1316 2193 1316 2192 1316 2192 1315 2191 1315 2191 1309 2190 1309 2190 1321 2189 1321 2189 1321 2188 1321 2188 1302 2187 1302 2187 1345 2186 1345 2186 1345 2185 1345 2185 1296 2184 1296 2184 1309 2183 1309 2183 1314 2182 1314 2182 1319 2181 1319 2181 1326 2180 1326 2180 1326 2179 1326 2179 1322 2178 1322 2178 1326 2177 1326 2177 1326 2176 1326 2176 1330 2175 1330 2175 1330 2174 1330 2174 1362 2173 1362 2173 1367 2172 1367 2172 1367 2171 1367 2171 1315 2170 1315 2170 1358 2169 1358 2169 1360 2168 1360 2168 1360 2167 1360 2167 1347 2166 1347 2166 1347 2165 1347 2165 1354 2164 1354 2164 1354 2163 1354 2163 1353 2162 1353 2162 1382 2161 1382 2161 1382 2160 1382 2160 1370 2159 1370 2159 1382 2158 1382 2158 1382 2157 1382 2157 1377 2156 1377 2156 1377 2155 1377 2155 1359 2154 1359 2154 1407 2153 1407 2153 1407 2152 1407 2152 1368 2151 1368 2151 1369 2150 1369 2150 1377 2149 1377 2149 1377 2148 1377 2148 1374 2147 1374 2147 1380 2146 1380 2146 1380 2145 1380 2145 1385 2144 1385 2144 1389 2143 1389 2143 1389 2142 1389 2142 1384 2141 1384 2141 1384 2140 1384 2140 1383 2139 1383 2139 1384 2138 1384 2138 1387 2137 1387 2137 1387 2136 1387 2136 1400 2135 1400 2135 1400 2134 1400 2134 1385 2133 1385 2133 1385 2132 1385 2132 1385 2131 1385 2131 1385 2130 1385 2130 1386 2129 1386 2129 1386 2128 1386 2128 1384 2127 1384 2127 1387 2126 1387 2126 1388 2125 1388 2125 1391 2124 1391 2124 1394 2123 1394 2123 1394 2122 1394 2122 1392 2121 1392 2121 1391 2120 1391 2120 1390 2119 1390 2119 1387 2118 1387 2118 1396 2117 1396 2117 1396 2116 1396 2116 1388 2115 1388 2115 1389 2114 1389 2114 1389 2113 1389 2113 1389 2112 1389 2112 1389 2111 1389 2111 1383 2110 1383 2110 1383 2109 1383 2109 1380 2108 1380 2108 1382 2107 1382 2107 1384 2106 1384 2106 1386 2105 1386 2105 1387 2104 1387 2104 1390 2103 1390 2103 1397 2102 1397 2102 1397 2101 1397 2101 1390 2100 1390 2100 1389 2099 1389 2099 1388 2098 1388 2098 1387 2097 1387 2097 1388 2096 1388 2096 1392 2095 1392 2095 1395 2094 1395 2094 1395 2093 1395 2093 1397 2092 1397 2092 1399 2091 1399 2091 1399 2090 1399 2090 1399 2089 1399 2089 1398 2088 1398 2088 1398 2087 1398 2087 1398 2086 1398 2086 1396 2085 1396 2085 1396 2084 1396 2084 1395 2083 1395 2083 1404 2082 1404 2082 1404 2081 1404 2081 1396 2080 1396 2080 1397 2079 1397 2079 1400 2078 1400 2078 1400 2077 1400 2077 1400 2076 1400 2076 1403 2075 1403 2075 1403 2074 1403 2074 1405 2073 1405 2073 1405 2072 1405 2072 1402 2071 1402 2071 1402 2070 1402 2070 1398 2069 1398 2069 1404 2068 1404 2068 1404 2067 1404 2067 1394 2066 1394 2066 1398 2065 1398 2065 1398 2064 1398 2064 1394 2063 1394 2063 1409 2062 1409 2062 1409 2061 1409 2061 1395 2060 1395 2060 1396 2059 1396 2059 1396 2058 1396 2058 1396 2057 1396 2057 1402 2056 1402 2056 1408 2055 1408 2055 1408 2054 1408 2054 1398 2053 1398 2053 1400 2052 1400 2052 1401 2051 1401 2051 1402 2050 1402 2050 1403 2049 1403 2049 1404 2048 1404 2048 1405 2047 1405 2047 1405 2046 1405 2046 1403 2045 1403 2045 1404 2044 1404 2044 1404 2043 1404 2043 1391 2042 1391 2042 1388 2041 1388 2041 1393 2040 1393 2040 1393 2039 1393 2039 1393 2038 1393 2038 1394 2037 1394 2037 1395 2036 1395 2036 1397 2035 1397 2035 1398 2034 1398 2034 1399 2033 1399 2033 1405 2032 1405 2032 1405 2031 1405 2031 1399 2030 1399 2030 1398 2029 1398 2029 1395 2028 1395 2028 1394 2027 1394 2027 1397 2026 1397 2026 1397 2025 1397 2025 1395 2024 1395 2024 1395 2023 1395 2023 1396 2022 1396 2022 1396 2021 1396 2021 1407 2020 1407 2020 1407 2019 1407 2019 1399 2018 1399 2018 1399 2017 1399 2017 1400 2016 1400 2016 1400 2015 1400 2015 1399 2014 1399 2014 1397 2013 1397 2013 1394 2012 1394 2012 1394 2011 1394 2011 1390 2010 1390 2010 1402 2009 1402 2009 1402 2008 1402 2008 1398 2007 1398 2007 1402 2006 1402 2006 1402 2005 1402 2005 1400 2004 1400 2004 1400 2003 1400 2003 1395 2002 1395 2002 1395 2001 1395 2001 1400 2000 1400 2000 1400 1999 1400 1999 1396 1998 1396 1998 1398 1997 1398 1997 1400 1996 1400 1996 1401 1995 1401 1995 1402 1994 1402 1994 1404 1993 1404 1993 1407 1992 1407 1992 1407 1991 1407 1991 1408 1990 1408 1990 1411 1989 1411 1989 1411 1988 1411 1988 1407 1987 1407 1987 1406 1986 1406 1986 1407 1985 1407 1985 1407 1984 1407 1984 1418 1983 1418 1983 1418 1982 1418 1982 1404 1981 1404 1981 1404 1980 1404 1980 1400 1979 1400 1979 1401 1978 1401 1978 1402 1977 1402 1977 1403 1976 1403 1976 1410 1975 1410 1975 1411 1974 1411 1974 1424 1973 1424 1973 1424 1972 1424 1972 1408 1971 1408 1971 1406 1970 1406 1970 1404 1969 1404 1969 1402 1968 1402 1968 1404 1967 1404 1967 1404 1966 1404 1966 1402 1965 1402 1965 1401 1964 1401 1964 1402 1963 1402 1963 1403 1962 1403 1962 1404 1961 1404 1961 1407 1960 1407 1960 1407 1959 1407 1959 1405 1958 1405 1958 1404 1957 1404 1957 1402 1956 1402 1956 1404 1955 1404 1955 1404 1954 1404 1954 1403 1953 1403 1953 1400 1952 1400 1952 1400 1951 1400 1951 1402 1950 1402 1950 1410 1949 1410 1949 1410 1948 1410 1948 1417 1947 1417 1947 1417 1946 1417 1946 1404 1945 1404 1945 1404 1944 1404 1944 1399 1943 1399 1943 1395 1942 1395 1942 1392 1941 1392 1941 1391 1940 1391 1940 1390 1939 1390 1939 1387 1938 1387 1938 1386 1937 1386 1937 1383 1936 1383 1936 1380 1935 1380 1935 1380 1934 1380 1934 1376 1933 1376 1933 1382 1932 1382 1932 1383 1931 1383 1931 1384 1930 1384 1930 1386 1929 1386 1929 1388 1928 1388 1928 1392 1927 1392 1927 1395 1926 1395 1926 1395 1925 1395 1925 1395 1924 1395 1924 1393 1923 1393 1923 1391 1922 1391 1922 1389 1921 1389 1921 1390 1920 1390 1920 1390 1919 1390 1919 1387 1918 1387 1918 1387 1917 1387 1917 1388 1916 1388 1916 1393 1915 1393 1915 1393 1914 1393 1914 1391 1913 1391 1913 1393 1912 1393 1912 1393 1911 1393 1911 1393 1910 1393 1910 1393 1909 1393 1909 1392 1908 1392 1908 1391 1907 1391 1907 1394 1906 1394 1906 1394 1905 1394 1905 1387 1904 1387 1904 1387 1903 1387 1903 1393 1902 1393 1902 1393 1901 1393 1901 1392 1900 1392 1900 1393 1899 1393 1899 1396 1898 1396 1898 1396 1897 1396 1897 1392 1896 1392 1896 1393 1895 1393 1895 1393 1894 1393 1894 1391 1893 1391 1893 1389 1892 1389 1892 1393 1891 1393 1891 1398 1890 1398 1890 1398 1889 1398 1889 1400 1888 1400 1888 1400 1887 1400 1887 1403 1886 1403 1886 1403 1885 1403 1885 1401 1884 1401 1884 1399 1883 1399 1883 1399 1882 1399 1882 1399 1881 1399 1881 1395 1880 1395 1880 1394 1879 1394 1879 1392 1878 1392 1878 1391 1877 1391 1877 1390 1876 1390 1876 1389 1875 1389 1875 1391 1874 1391 1874 1392 1873 1392 1873 1394 1872 1394 1872 1402 1871 1402 1871 1402 1870 1402 1870 1401 1869 1401 1869 1417 1868 1417 1868 1417 1867 1417 1867 1402 1866 1402 1866 1402 1865 1402 1865 1399 1864 1399 1864 1397 1863 1397 1863 1395 1862 1395 1862 1396 1861 1396 1861 1396 1860 1396 1860 1396 1859 1396 1859 1398 1858 1398 1858 1398 1857 1398 1857 1398 1856 1398 1856 1398 1855 1398 1855 1398 1854 1398 1854 1397 1853 1397 1853 1404 1852 1404 1852 1404 1851 1404 1851 1402 1850 1402 1850 1396 1849 1396 1849 1396 1848 1396 1848 1397 1847 1397 1847 1397 1846 1397 1846 1396 1845 1396 1845 1394 1844 1394 1844 1394 1843 1394 1843 1394 1842 1394 1842 1394 1841 1394 1841 1393 1840 1393 1840 1392 1839 1392 1839 1392 1838 1392 1838 1391 1837 1391 1837 1392 1836 1392 1836 1406 1835 1406 1835 1406 1834 1406 1834 1406 1833 1406 1833 1389 1832 1389 1832 1385 1831 1385 1831 1383 1830 1383 1830 1382 1829 1382 1829 1381 1828 1381 1828 1381 1827 1381 1827 1380 1826 1380 1826 1378 1825 1378 1825 1382 1824 1382 1824 1387 1823 1387 1823 1387 1822 1387 1822 1390 1821 1390 1821 1392 1820 1392 1820 1392 1819 1392 1819 1394 1818 1394 1818 1394 1817 1394 1817 1397 1816 1397 1816 1397 1815 1397 1815 1397 1814 1397 1814 1397 1813 1397 1813 1396 1812 1396 1812 1398 1811 1398 1811 1398 1810 1398 1810 1398 1809 1398 1809 1398 1808 1398 1808 1397 1807 1397 1807 1394 1806 1394 1806 1394 1805 1394 1805 1393 1804 1393 1804 1393 1803 1393 1803 1391 1802 1391 1802 1390 1801 1390 1801 1390 1800 1390 1800 1390 1799 1390 1799 1392 1798 1392 1798 1392 1797 1392 1797 1393 1796 1393 1796 1395 1795 1395 1795 1395 1794 1395 1794 1392 1793 1392 1793 1396 1792 1396 1792 1396 1791 1396 1791 1400 1790 1400 1790 1400 1789 1400 1789 1399 1788 1399 1788 1399 1787 1399 1787 1393 1786 1393 1786 1393 1785 1393 1785 1399 1784 1399 1784 1399 1783 1399 1783 1395 1782 1395 1782 1392 1781 1392 1781 1391 1780 1391 1780 1393 1779 1393 1779 1393 1778 1393 1778 1394 1777 1394 1777 1394 1776 1394 1776 1400 1775 1400 1775 1400 1774 1400 1774 1401 1773 1401 1773 1401 1772 1401 1772 1396 1771 1396 1771 1395 1770 1395 1770 1394 1769 1394 1769 1394 1768 1394 1768 1396 1767 1396 1767 1396 1766 1396 1766 1391 1765 1391 1765 1391 1764 1391 1764 1391 1763 1391 1763 1391 1762 1391 1762 1393 1761 1393 1761 1393 1760 1393 1760 1394 1759 1394 1759 1394 1758 1394 1758 1396 1757 1396 1757 1396 1756 1396 1756 1403 1755 1403 1755 1403 1754 1403 1754 1402 1753 1402 1753 1402 1752 1402 1752 1393 1751 1393 1751 1393 1750 1393 1750 1393 1749 1393 1749 1394 1748 1394 1748 1397 1747 1397 1747 1397 1746 1397 1746 1404 1745 1404 1745 1404 1744 1404 1744 1394 1743 1394 1743 1396 1742 1396 1742 1396 1741 1396 1741 1398 1740 1398 1740 1398 1739 1398 1739 1396 1738 1396 1738 1396 1737 1396 1737 1395 1736 1395 1736 1396 1735 1396 1735 1396 1734 1396 1734 1393 1733 1393 1733 1392 1732 1392 1732 1392 1731 1392 1731 1392 1730 1392 1730 1395 1729 1395 1729 1395 1728 1395 1728 1390 1727 1390 1727 1390 1726 1390 1726 1390 1725 1390 1725 1390 1724 1390 1724 1390 1723 1390 1723 1391 1722 1391 1722 1391 1721 1391 1721 1392 1720 1392 1720 1392 1719 1392 1719 1392 1718 1392 1718 1390 1717 1390 1717 1390 1716 1390 1716 1390 1715 1390 1715 1390 1714 1390 1714 1389 1713 1389 1713 1388 1712 1388 1712 1388 1711 1388 1711 1388 1710 1388 1710 1388 1709 1388 1709 1388 1708 1388 1708 1388 1707 1388 1707 1388 1706 1388 1706 1388 1705 1388 1705 1388 1704 1388 1704 1388 1703 1388 1703 1388 1702 1388 1702 1389 1701 1389 1701 1398 1700 1398 1700 1398 1699 1398 1699 1393 1698 1393 1698 1388 1697 1388 1697 1391 1696 1391 1696 1391 1695 1391 1695 1393 1694 1393 1694 1394 1693 1394 1693 1394 1692 1394 1692 1389 1691 1389 1691 1389 1690 1389 1690 1387 1689 1387 1689 1389 1688 1389 1688 1389 1687 1389 1687 1387 1686 1387 1686 1534 1685 1534 1685 1534 1684 1534 1684 1391 1683 1391 1683 1391 1682 1391 1682 1391 1681 1391 1681 1392 1680 1392 1680 1393 1679 1393 1679 1393 1678 1393 1678 1394 1677 1394 1677 1397 1676 1397 1676 1397 1675 1397 1675 1396 1674 1396 1674 1397 1673 1397 1673 1397 1672 1397 1672 1399 1671 1399 1671 1399 1670 1399 1670 1397 1669 1397 1669 1397 1668 1397 1668 1397 1667 1397 1667 1395 1666 1395 1666 1396 1665 1396 1665 1396 1664 1396 1664 1396 1663 1396 1663 1401 1662 1401 1662 1401 1661 1401 1661 1398 1660 1398 1660 1398 1659 1398 1659 1398 1658 1398 1658 1398 1657 1398 1657 1397 1656 1397 1656 1396 1655 1396 1655 1394 1654 1394 1654 1394 1653 1394 1653 1390 1652 1390 1652 1390 1651 1390 1651 1389 1650 1389 1650 1389 1649 1389 1649 1390 1648 1390 1648 1392 1647 1392 1647 1392 1646 1392 1646 1391 1645 1391 1645 1392 1644 1392 1644 1392 1643 1392 1643 1394 1642 1394 1642 1394 1641 1394 1641 1389 1640 1389 1640 1385 1639 1385 1639 1383 1638 1383 1638 1391 1637 1391 1637 1391 1636 1391 1636 1381 1635 1381 1635 1382 1634 1382 1634 1382 1633 1382 1633 1381 1632 1381 1632 1381 1631 1381 1631 1381 1630 1381 1630 1382 1629 1382 1629 1382 1628 1382 1628 1384 1627 1384 1627 1384 1626 1384 1626 1385 1625 1385 1625 1387 1624 1387 1624 1387 1623 1387 1623 1388 1622 1388 1622 1389 1621 1389 1621 1389 1620 1389 1620 1390 1619 1390 1619 1390 1618 1390 1618 1389 1617 1389 1617 1390 1616 1390 1616 1392 1615 1392 1615 1392 1614 1392 1614 1389 1613 1389 1613 1389 1612 1389 1612 1389 1611 1389 1611 1393 1610 1393 1610 1393 1609 1393 1609 1393 1608 1393 1608 1398 1607 1398 1607 1398 1606 1398 1606 1394 1605 1394 1605 1394 1604 1394 1604 1398 1603 1398 1603 1398 1602 1398 1602 1398 1601 1398 1601 1398 1600 1398 1600 1392 1599 1392 1599 1391 1598 1391 1598 1391 1597 1391 1597 1389 1596 1389 1596 1389 1595 1389 1595 1390 1594 1390 1594 1391 1593 1391 1593 1391 1592 1391 1592 1388 1591 1388 1591 1388 1590 1388 1590 1388 1589 1388 1589 1387 1588 1387 1588 1387 1587 1387 1587 1388 1586 1388 1586 1388 1585 1388 1585 1391 1584 1391 1584 1391 1583 1391 1583 1390 1582 1390 1582 1392 1581 1392 1581 1396 1580 1396 1580 1396 1579 1396 1579 1395 1578 1395 1578 1395 1577 1395 1577 1392 1576 1392 1576 1396 1575 1396 1575 1396 1574 1396 1574 1387 1573 1387 1573 1386 1572 1386 1572 1385 1571 1385 1571 1387 1570 1387 1570 1389 1569 1389 1569 1402 1568 1402 1568 1402 1567 1402 1567 1392 1566 1392 1566 1392 1565 1392 1565 1393 1564 1393 1564 1393 1563 1393 1563 1404 1562 1404 1562 1404 1561 1404 1561 1395 1560 1395 1560 1395 1559 1395 1559 1395 1558 1395 1558 1396 1557 1396 1557 1396 1556 1396 1556 1396 1555 1396 1555 1395 1554 1395 1554 1395 1553 1395 1553 1395 1552 1395 1552 1395 1551 1395 1551 1396 1550 1396 1550 1396 1549 1396 1549 1389 1548 1389 1548 1389 1547 1389 1547 1398 1546 1398 1546 1398 1545 1398 1545 1390 1544 1390 1544 1388 1543 1388 1543 1389 1542 1389 1542 1389 1541 1389 1541 1389 1540 1389 1540 1390 1539 1390 1539 1391 1538 1391 1538 1391 1537 1391 1537 1388 1536 1388 1536 1387 1535 1387 1535 1385 1534 1385 1534 1384 1533 1384 1533 1385 1532 1385 1532 1385 1531 1385 1531 1385 1530 1385 1530 1386 1529 1386 1529 1386 1528 1386 1528 1387 1527 1387 1527 1391 1526 1391 1526 1391 1525 1391 1525 1390 1524 1390 1524 1404 1523 1404 1523 1404 1522 1404 1522 1390 1521 1390 1521 1390 1520 1390 1520 1391 1519 1391 1519 1391 1518 1391 1518 1386 1517 1386 1517 1385 1516 1385 1516 1386 1515 1386 1515 1387 1514 1387 1514 1388 1513 1388 1513 1390 1512 1390 1512 1391 1511 1391 1511 1393 1510 1393 1510 1393 1509 1393 1509 1393 1508 1393 1508 1395 1507 1395 1507 1395 1506 1395 1506 1395 1505 1395 1505 1402 1504 1402 1504 1408 1503 1408 1503 1408 1502 1408 1502 1397 1501 1397 1501 1399 1500 1399 1500 1403 1499 1403 1499 1407 1498 1407 1498 1411 1497 1411 1497 1411 1496 1411 1496 1405 1495 1405 1495 1409 1494 1409 1494 1409 1493 1409 1493 1408 1492 1408 1492 1408 1491 1408 1491 1407 1490 1407 1490 1409 1489 1409 1489 1409 1488 1409 1488 1407 1487 1407 1487 1407 1486 1407 1486 1407 1485 1407 1485 1404 1484 1404 1484 1404 1483 1404 1483 1406 1482 1406 1482 1406 1481 1406 1481 1404 1480 1404 1480 1407 1479 1407 1479 1407 1478 1407 1478 1403 1477 1403 1477 1402 1476 1402 1476 1401 1475 1401 1475 1403 1474 1403 1474 1403 1473 1403 1473 1403 1472 1403 1472 1403 1471 1403 1471 1402 1470 1402 1470 1403 1469 1403 1469 1403 1468 1403 1468 1402 1467 1402 1467 1414 1466 1414 1466 1414 1465 1414 1465 1402 1464 1402 1464 1402 1463 1402 1463 1402 1462 1402 1462 1401 1461 1401 1461 1401 1460 1401 1460 1401 1459 1401 1459 1400 1458 1400 1458 1400 1457 1400 1457 1400 1456 1400 1456 1402 1455 1402 1455 1402 1454 1402 1454 1398 1453 1398 1453 1399 1452 1399 1452 1400 1451 1400 1451 1400 1450 1400 1450 1399 1449 1399 1449 1400 1448 1400 1448 1400 1447 1400 1447 1399 1446 1399 1446 1400 1445 1400 1445 1400 1444 1400 1444 1399 1443 1399 1443 1397 1442 1397 1442 1397 1441 1397 1441 1408 1440 1408 1440 1408 1439 1408 1439 1397 1438 1397 1438 1397 1437 1397 1437 1413 1436 1413 1436 1413 1435 1413 1435 1398 1434 1398 1434 1398 1433 1398 1433 1407 1432 1407 1432 1407 1431 1407 1431 1406 1430 1406 1430 1406 1429 1406 1429 1398 1428 1398 1428 1398 1427 1398 1427 1398 1426 1398 1426 1408 1425 1408 1425 1408 1424 1408 1424 1397 1423 1397 1423 1397 1422 1397 1422 1398 1421 1398 1421 1400 1420 1400 1420 1400 1419 1400 1419 1398 1418 1398 1418 1398 1417 1398 1417 1398 1416 1398 1416 1398 1415 1398 1415 1398 1414 1398 1414 1398 1413 1398 1413 1398 1412 1398 1412 1398 1411 1398 1411 1397 1410 1397 1410 1407 1409 1407 1409 1407 1408 1407 1408 1400 1407 1400 1407 1400 1406 1400 1406 1402 1405 1402 1405 1402 1404 1402 1404 1403 1403 1403 1403 1407 1402 1407 1402 1407 1401 1407 1401 1410 1400 1410 1400 1410 1399 1410 1399 1407 1398 1407 1398 1407 1397 1407 1397 1407 1396 1407 1396 1410 1395 1410 1395 1410 1394 1410 1394 1404 1393 1404 1393 1403 1392 1403 1392 1403 1391 1403 1391 1403 1390 1403 1390 1402 1389 1402 1389 1403 1388 1403 1388 1403 1387 1403 1387 1403 1386 1403 1386 1403 1385 1403 1385 1401 1384 1401 1384 1400 1383 1400 1383 1400 1382 1400 1382 1399 1381 1399 1381 1399 1380 1399 1380 1397 1379 1397 1379 1397 1378 1397 1378 1397 1377 1397 1377 1397 1376 1397 1376 1400 1375 1400 1375 1400 1374 1400 1374 1398 1373 1398 1373 1398 1372 1398 1372 1400 1371 1400 1371 1400 1370 1400 1370 1406 1369 1406 1369 1406 1368 1406 1368 1399 1367 1399 1367 1397 1366 1397 1366 1397 1365 1397 1365 1397 1364 1397 1364 1398 1363 1398 1363 1399 1362 1399 1362 1405 1361 1405 1361 1405 1360 1405 1360 1403 1359 1403 1359 1403 1358 1403 1358 1402 1357 1402 1357 1404 1356 1404 1356 1404 1355 1404 1355 1403 1354 1403 1354 1403 1353 1403 1353 1404 1352 1404 1352 1404 1351 1404 1351 1402 1350 1402 1350 1402 1349 1402 1349 1402 1348 1402 1348 1399 1347 1399 1347 1398 1346 1398 1346 1397 1345 1397 1345 1398 1344 1398 1344 1401 1343 1401 1343 1401 1342 1401 1342 1401 1341 1401 1341 1401 1340 1401 1340 1401 1339 1401 1339 1402 1338 1402 1338 1402 1337 1402 1337 1401 1336 1401 1336 1401 1335 1401 1335 1399 1334 1399 1334 1399 1333 1399 1333 1395 1332 1395 1332 1394 1331 1394 1331 1393 1330 1393 1330 1392 1329 1392 1329 1392 1328 1392 1328 1392 1327 1392 1327 1392 1326 1392 1326 1392 1325 1392 1325 1392 1324 1392 1324 1398 1323 1398 1323 1398 1322 1398 1322 1397 1321 1397 1321 1392 1320 1392 1320 1392 1319 1392 1319 1395 1318 1395 1318 1395 1317 1395 1317 1392 1316 1392 1316 1391 1315 1391 1315 1393 1314 1393 1314 1398 1313 1398 1313 1398 1312 1398 1312 1394 1311 1394 1311 1394 1310 1394 1310 1394 1309 1394 1309 1395 1308 1395 1308 1395 1307 1395 1307 1394 1306 1394 1306 1410 1305 1410 1305 1410 1304 1410 1304 1396 1303 1396 1303 1396 1302 1396 1302 1397 1301 1397 1301 1397 1300 1397 1300 1400 1299 1400 1299 1400 1298 1400 1298 1400 1297 1400 1297 1394 1296 1394 1296 1394 1295 1394 1295 1394 1294 1394 1294 1393 1293 1393 1293 1393 1292 1393 1292 1393 1291 1393 1291 1393 1290 1393 1290 1394 1289 1394 1289 1396 1288 1396 1288 1397 1287 1397 1287 1399 1286 1399 1286 1399 1285 1399 1285 1394 1284 1394 1284 1401 1283 1401 1283 1401 1282 1401 1282 1395 1281 1395 1281 1395 1280 1395 1280 1395 1279 1395 1279 1393 1278 1393 1278 1393 1277 1393 1277 1393 1276 1393 1276 1392 1275 1392 1275 1392 1274 1392 1274 1391 1273 1391 1273 1392 1272 1392 1272 1392 1271 1392 1271 1390 1270 1390 1270 1389 1269 1389 1269 1391 1268 1391 1268 1391 1267 1391 1267 1390 1266 1390 1266 1391 1265 1391 1265 1391 1264 1391 1264 1399 1263 1399 1263 1399 1262 1399 1262 1402 1261 1402 1261 1402 1260 1402 1260 1392 1259 1392 1259 1389 1258 1389 1258 1389 1257 1389 1257 1388 1256 1388 1256 1388 1255 1388 1255 1387 1254 1387 1254 1387 1253 1387 1253 1386 1252 1386 1252 1385 1251 1385 1251 1386 1250 1386 1250 1386 1249 1386 1249 1380 1248 1380 1248 1378 1247 1378 1247 1378 1246 1378 1246 1379 1245 1379 1245 1381 1244 1381 1244 1381 1243 1381 1243 1390 1242 1390 1242 1390 1241 1390 1241 1380 1240 1380 1240 1376 1239 1376 1239 1378 1238 1378 1238 1378 1237 1378 1237 1378 1236 1378 1236 1373 1235 1373 1235 1335 1234 1335 1234 1296 1233 1296 1233 1258 1232 1258 1232 1182 1231 1182 1231 1081 1230 1081 1230 1055 1229 1055 1229 1083 1228 1083 1228 1083 1227 1083 1227 1070 1226 1070 1226 1066 1225 1066 1225 1017 1224 1017 1224 1018 1223 1018 1223 1018 1222 1018 1222 1021 1221 1021 1221 1033 1220 1033 1220 1055 1219 1055 1219 1055 1218 1055 1218 1016 1217 1016 1217 1013 1216 1013 1216 1016 1215 1016 1215 1020 1214 1020 1214 1026 1213 1026 1213 1045 1212 1045 1212 1045 1211 1045 1211 1038 1210 1038 1210 1038 1209 1038 1209 1031 1208 1031 1208 1039 1207 1039 1207 1039 1206 1039 1206 1004 1205 1004 1205 995 1204 995 1204 988 1203 988 1203 985 1202 985 1202 974 1201 974 1201 982 1200 982 1200 982 1199 982 1199 977 1198 977 1198 984 1197 984 1197 984 1196 984 1196 999 1195 999 1195 999 1194 999 1194 945 1193 945 1193 940 1192 940 1192 940 1191 940 1191 942 1190 942 1190 942 1189 942 1189 948 1188 948 1188 973 1187 973 1187 973 1186 973 1186 939 1185 939 1185 941 1184 941 1184 941 1183 941 1183 938 1182 938 1182 959 1181 959 1181 959 1180 959 1180 934 1179 934 1179 925 1178 925 1178 925 1177 925 1177 925 1176 925 1176 919 1175 919 1175 916 1174 916 1174 916 1173 916 1173 916 1172 916 1172 913 1171 913 1171 913 1170 913 1170 912 1169 912 1169 912 1168 912 1168 912 1167 912 1167 915 1166 915 1166 915 1165 915 1165 911 1164 911 1164 910 1163 910 1163 897 1162 897 1162 895 1161 895 1161 895 1160 895 1160 894 1159 894 1159 894 1158 894 1158 897 1157 897 1157 897 1156 897 1156 894 1155 894 1155 894 1154 894 1154 894 1153 894 1153 894 1152 894 1152 895 1151 895 1151 895 1150 895 1150 891 1149 891 1149 891 1148 891 1148 889 1147 889 1147 914 1146 914 1146 914 1145 914 1145 898 1144 898 1144 898 1143 898 1143 901 1142 901 1142 901 1141 901 1141 883 1140 883 1140 883 1139 883 1139 872 1138 872 1138 872 1137 872 1137 871 1136 871 1136 871 1135 871 1135 872 1134 872 1134 872 1133 872 1133 874 1132 874 1132 875 1131 875 1131 877 1130 877 1130 877 1129 877 1129 878 1128 878 1128 878 1127 878 1127 875 1126 875 1126 876 1125 876 1125 904 1124 904 1124 904 1123 904 1123 885 1122 885 1122 888 1121 888 1121 897 1120 897 1120 897 1119 897 1119 880 1118 880 1118 879 1117 879 1117 878 1116 878 1116 878 1115 878 1115 883 1114 883 1114 883 1113 883 1113 871 1112 871 1112 873 1111 873 1111 873 1110 873 1110 874 1109 874 1109 874 1108 874 1108 876 1107 876 1107 876 1106 876 1106 867 1105 867 1105 872 1104 872 1104 881 1103 881 1103 891 1102 891 1102 894 1101 894 1101 894 1100 894 1100 899 1099 899 1099 899 1098 899 1098 890 1097 890 1097 889 1096 889 1096 888 1095 888 1095 889 1094 889 1094 889 1093 889 1093 883 1092 883 1092 881 1091 881 1091 877 1090 877 1090 877 1089 877 1089 879 1088 879 1088 883 1087 883 1087 889 1086 889 1086 889 1085 889 1085 876 1084 876 1084 873 1083 873 1083 869 1082 869 1082 864 1081 864 1081 865 1080 865 1080 865 1079 865 1079 868 1078 868 1078 868 1077 868 1077 863 1076 863 1076 864 1075 864 1075 864 1074 864 1074 865 1073 865 1073 865 1072 865 1072 861 1071 861 1071 859 1070 859 1070 857 1069 857 1069 857 1068 857 1068 857 1067 857 1067 857 1066 857 1066 859 1065 859 1065 859 1064 859 1064 862 1063 862 1063 862 1062 862 1062 855 1061 855 1061 858 1060 858 1060 858 1059 858 1059 860 1058 860 1058 861 1057 861 1057 866 1056 866 1056 866 1055 866 1055 859 1054 859 1054 857 1053 857 1053 857 1052 857 1052 854 1051 854 1051 856 1050 856 1050 890 1049 890 1049 890 1048 890 1048 859 1047 859 1047 879 1046 879 1046 879 1045 879 1045 852 1044 852 1044 852 1043 852 1043 847 1042 847 1042 850 1041 850 1041 850 1040 850 1040 843 1039 843 1039 845 1038 845 1038 845 1037 845 1037 843 1036 843 1036 842 1035 842 1035 841 1034 841 1034 841 1033 841 1033 841 1032 841 1032 841 1031 841 1031 838 1030 838 1030 850 1029 850 1029 850 1028 850 1028 834 1027 834 1027 840 1026 840 1026 840 1025 840 1025 838 1024 838 1024 829 1023 829 1023 828 1022 828 1022 833 1021 833 1021 833 1020 833 1020 831 1019 831 1019 833 1018 833 1018 833 1017 833 1017 829 1016 829 1016 827 1015 827 1015 829 1014 829 1014 829 1013 829 1013 817 1012 817 1012 814 1011 814 1011 814 1010 814 1010 817 1009 817 1009 817 1008 817 1008 848 1007 848 1007 848 1006 848 1006 831 1005 831 1005 831 1004 831 1004 818 1003 818 1003 818 1002 818 1002 819 1001 819 1001 833 1000 833 1000 837 999 837 999 837 998 837 998 824 997 824 997 822 996 822 996 823 995 823 995 823 994 823 994 845 993 845 993 845 992 845 992 817 991 817 991 816 990 816 990 828 989 828 989 828 988 828 988 814 987 814 987 807 986 807 986 806 985 806 985 808 984 808 984 808 983 808 983 806 982 806 982 811 981 811 981 811 980 811 980 808 979 808 979 798 978 798 978 796 977 796 977 787 976 787 976 786 975 786 975 787 974 787 974 787 973 787 973 787 972 787 972 783 971 783 971 780 970 780 970 772 969 772 969 768 968 768 968 803 967 803 967 803 966 803 966 758 965 758 965 778 964 778 964 778 963 778 963 753 962 753 962 753 961 753 961 752 960 752 960 759 959 759 959 759 958 759 958 787 957 787 957 787 956 787 956 758 955 758 955 758 954 758 954 783 953 783 953 783 952 783 952 746 951 746 951 803 950 803 950 803 949 803 949 719 948 719 948 737 947 737 947 737 946 737 946 721 945 721 945 721 944 721 944 730 943 730 943 730 942 730 942 723 941 723 941 752 940 752 940 752 939 752 939 730 938 730 938 714 937 714 937 734 936 734 936 734 935 734 935 708 934 708 934 751 933 751 933 751 932 751 932 714 931 714 931 711 930 711 930 715 929 715 929 724 928 724 928 727 927 727 927 727 926 727 926 726 925 726 925 726 924 726 924 719 923 719 923 736 922 736 922 736 921 736 921 700 920 700 920 696 919 696 919 687 918 687 918 686 917 686 917 677 916 677 916 672 915 672 915 667 914 667 914 838 913 838 913 838 912 838 912 661 911 661 911 657 910 657 910 667 909 667 909 667 908 667 908 656 907 656 907 794 906 794 906 794 905 794 905 658 904 658 904 658 903 658 903 645 902 645 902 643 901 643 901 643 900 643 900 782 899 782 899 782 898 782 898 665 897 665 897 666 896 666 896 685 895 685 895 691 894 691 894 691 893 691 893 691 892 691 892 691 891 691 891 691 890 691 890 717 889 717 889 717 888 717 888 700 887 700 887 699 886 699 886 693 885 693 885 693 884 693 884 693 883 693 883 707 882 707 882 726 881 726 881 726 880 726 880 731 879 731 879 755 878 755 878 755 877 755 877 713 876 713 876 708 875 708 875 698 874 698 874 698 873 698 873 698 872 698 872 699 871 699 871 700 870 700 870 700 869 700 869 687 868 687 868 687 867 687 867 680 866 680 866 675 865 675 865 677 864 677 864 701 863 701 863 701 862 701 862 694 861 694 861 694 860 694 860 680 859 680 859 680 858 680 858 724 857 724 857 724 856 724 856 682 855 682 855 691 854 691 854 693 853 693 853 693 852 693 852 680 851 680 851 662 850 662 850 647 849 647 849 632 848 632 848 632 847 632 847 632 846 632 846 634 845 634 845 634 844 634 844 634 843 634 843 634 842 634 842 636 841 636 841 637 840 637 840 637 839 637 839 648 838 648 838 648 837 648 837 646 836 646 836 642 835 642 835 642 834 642 834 640 833 640 833 640 832 640 832 629 831 629 831 629 830 629 830 627 829 627 829 627 828 627 828 627 827 627 827 628 826 628 826 628 825 628 825 627 824 627 824 627 823 627 823 627 822 627 822 628 821 628 821 628 820 628 820 628 819 628 819 628 818 628 818 628 817 628 817 629 816 629 816 632 815 632 815 642 814 642 814 652 813 652 813 655 812 655 812 660 811 660 811 660 810 660 810 658 809 658 809 661 808 661 808 661 807 661 807 653 806 653 806 645 805 645 805 641 804 641 804 640 803 640 803 640 802 640 802 617 801 617 801 611 800 611 800 607 799 607 799 597 798 597 798 585 797 585 797 577 796 577 796 604 795 604 795 745 794 745 794 745 793 745 793 745 792 745 792 627 791 627 791 636 790 636 790 636 789 636 789 636 788 636 788 619 787 619 787 646 786 646 786 646 785 646 785 687 784 687 784 687 783 687 783 706 782 706 782 864 781 864 781 864 780 864 780 770 779 770 779 858 778 858 778 858 777 858 777 1007 776 1007 776 1007 775 1007 775 872 774 872 774 799 773 799 773 882 772 882 772 882 771 882 771 908 770 908 770 908 769 908 769 908 768 908 768 845 767 845 767 938 766 938 766 938 765 938 765 1060 764 1060 764 1060 763 1060 763 882 762 882 762 882 761 882 761 882 760 882 760 853 759 853 759 853 758 853 758 841 757 841 757 841 756 841 756 1013 755 1013 755 1013 754 1013 754 870 753 870 753 906 752 906 752 906 751 906 751 906 750 906 750 781 749 781 749 843 748 843 748 843 747 843 747 895 746 895 746 895 745 895 745 710 744 710 744 710 743 710 743 728 742 728 742 728 741 728 741 728 740 728 740 650 739 650 739 650 738 650 738 619 737 619 737 879 736 879 736 879 735 879 735 879 734 879 734 703 733 703 733 754 732 754 732 864 731 864 731 864 730 864 730 758 729 758 729 758 728 758 728 683 727 683 727 710 726 710 726 710 725 710 725 981 724 981 724 981 723 981 723 826 722 826 722 785 721 785 721 866 720 866 720 866 719 866 719 866 718 866 718 775 717 775 717 843 716 843 716 843 715 843 715 843 714 843 714 728 713 728 713 943 712 943 712 943 711 943 711 943 710 943 710 785 709 785 709 785 708 785 708 783 707 783 707 893 706 893 706 893 705 893 705 893 704 893 704 798 703 798 703 863 702 863 702 1229 701 1229 701 1229 700 1229 700 829 699 829 699 1194 698 1194 698 1194 697 1194 697 1060 696 1060 696 1060 695 1060 695 862 694 862 694 862 693 862 693 880 692 880 692 880 691 880 691 919 690 919 690 919 689 919 689 919 688 919 688 815 687 815 687 860 686 860 686 860 685 860 685 866 684 866 684 866 683 866 683 866 682 866 682 990 681 990 681 990 680 990 680 880 679 880 679 880 678 880 678 868 677 868 677 880 676 880 676 880 675 880 675 885 674 885 674 1007 673 1007 673 1007 672 1007 672 852 671 852 671 942 670 942 670 942 669 942 669 1136 668 1136 668 1328 667 1328 667 1328 666 1328 666 895 665 895 665 895 664 895 664 867 663 867 663 1060 662 1060 662 1060 661 1060 661 927 660 927 660 927 659 927 659 1197 658 1197 658 1614 657 1614 657 1614 656 1614 656 1387 655 1387 655 1387 654 1387 654 1339 653 1339 653 1399 652 1399 652 1623 651 1623 651 1623 650 1623 650 1606 649 1606 649 1606 648 1606 648 1560 647 1560 647 1560 646 1560 646 1387 645 1387 645 1393 644 1393 644 1393 643 1393 643 1393 642 1393 642 1389 641 1389 641 1404 640 1404 640 1404 639 1404 639 1404 638 1404 638 1384 637 1384 637 1384 636 1384 636 1369 635 1369 635 1405 634 1405 634 1405 633 1405 633 1405 632 1405 632 1396 631 1396 631 1421 630 1421 630 1421 629 1421 629 1421 628 1421 628 1620 627 1620 627 1620 626 1620 626 1393 625 1393 625 1433 624 1433 624 1433 623 1433 623 1433 622 1433 622 1422 621 1422 621 1625 620 1625 620 1625 619 1625 619 1625 618 1625 618 1568 617 1568 617 1625 616 1625 616 1625 615 1625 615 1625 614 1625 614 1471 613 1471 613 1625 612 1625 612 1625 611 1625 611 1625 610 1625 610 1563 609 1563 609 1623 608 1623 608 1623 607 1623 607 1625 606 1625 606 1625 605 1625 605 1625 604 1625 604 1623 603 1623 603 1625 602 1625 602 1625 601 1625 601 1625 600 1625 600 1374 599 1374 599 1604 598 1604 598 1604 597 1604 597 1604 596 1604 596 1578 595 1578 595 1578 594 1578 594 1544 593 1544 593 1544 592 1544 592 1537 591 1537 591 1623 590 1623 590 1623 589 1623 589 1528 588 1528 588 1489 587 1489 587 1623 586 1623 586 1623 585 1623 585 1537 584 1537 584 1537 583 1537 583 1543 582 1543 582 1543 581 1543 581 1543 580 1543 580 1545 579 1545 579 1545 578 1545 578 1488 577 1488 577 1520 576 1520 576 1520 575 1520 575 1625 574 1625 574 1625 573 1625 573 1625 572 1625 572 1525 571 1525 571 1623 570 1623 570 1623 569 1623 569 1477 568 1477 568 1476 567 1476 567 1484 566 1484 566 1484 565 1484 565 1484 564 1484 564 1623 563 1623 563 1623 562 1623 562 1412 561 1412 561 1412 560 1412 560 1365 559 1365 559 1365 558 1365 558 1363 557 1363 557 1467 556 1467 556 1467 555 1467 555 1625 554 1625 554 1625 553 1625 553 1625 552 1625 552 1495 551 1495 551 1495 550 1495 550 1469 549 1469 549 1512 548 1512 548 1512 547 1512 547 1550 546 1550 546 1550 545 1550 545 1623 544 1623 544 1623 543 1623 543 1545 542 1545 542 1532 541 1532 541 1547 540 1547 540 1623 539 1623 539 1623 538 1623 538 1588 537 1588 537 1588 536 1588 536 1483 535 1483 535 1589 534 1589 534 1589 533 1589 533 1533 532 1533 532 1533 531 1533 531 1473 530 1473 530 1473 529 1473 529 1623 528 1623 528 1623 527 1623 527 1490 526 1490 526 1623 525 1623 525 1623 524 1623 524 1461 523 1461 523 1623 522 1623 522 1623 521 1623 521 1579 520 1579 520 1579 519 1579 519 1579 518 1579 518 1533 517 1533 517 1533 516 1533 516 1512 515 1512 515 1570 514 1570 514 1570 513 1570 513 1584 512 1584 512 1584 511 1584 511 1584 510 1584 510 1623 509 1623 509 1623 508 1623 508 1536 507 1536 507 1556 506 1556 506 1556 505 1556 505 1573 504 1573 504 1614 503 1614 503 1614 502 1614 502 1571 501 1571 501 1625 500 1625 500 1625 499 1625 499 1625 498 1625 498 1579 497 1579 497 1579 496 1579 496 1579 495 1579 495 1594 494 1594 494 1594 493 1594 493 1625 492 1625 492 1625 491 1625 491 1625 490 1625 490 1594 489 1594 489 1594 488 1594 488 1497 487 1497 487 1524 486 1524 486 1524 485 1524 485 1524 484 1524 484 1485 483 1485 483 1485 482 1485 482 1623 481 1623 481 1623 480 1623 480 1466 479 1466 479 1520 478 1520 478 1520 477 1520 477 1520 476 1520 476 1623 475 1623 475 1623 474 1623 474 1540 473 1540 473 1540 472 1540 472 1540 471 1540 471 1540 470 1540 470 1537 469 1537 469 1537 468 1537 468 1623 467 1623 467 1623 466 1623 466 1539 465 1539 465 1539 464 1539 464 1509 463 1509 463 1524 462 1524 462 1524 461 1524 461 1524 460 1524 460 1518 459 1518 459 1529 458 1529 458 1529 457 1529 457 1529 456 1529 456 1623 455 1623 455 1623 454 1623 454 1549 453 1549 453 1609 452 1609 452 1609 451 1609 451 1623 450 1623 450 1623 449 1623 449 1536 448 1536 448 1521 447 1521 447 1427 446 1427 446 1412 445 1412 445 1426 444 1426 444 1426 443 1426 443 1426 442 1426 442 1426 441 1426 441 1426 440 1426 440 1405 439 1405 439 1405 438 1405 438 1369 437 1369 437 1417 436 1417 436 1427 435 1427 435 1427 434 1427 434 1425 433 1425 433 1425 432 1425 432 1485 431 1485 431 1505 430 1505 430 1505 429 1505 429 1505 428 1505 428 1308 427 1308 427 1344 426 1344 426 1344 425 1344 425 1426 424 1426 424 1426 423 1426 423 1426 422 1426 422 1361 421 1361 421 1623 420 1623 420 1623 419 1623 419 1625 418 1625 418 1625 417 1625 417 1625 416 1625 416 1425 415 1425 415 1425 414 1425 414 1321 413 1321 413 1343 412 1343 412 1409 411 1409 411 1409 410 1409 410 1290 409 1290 409 1403 408 1403 408 1403 407 1403 407 1403 406 1403 406 1395 405 1395 405 1412 404 1412 404 1412 403 1412 403 1412 402 1412 402 1462 401 1462 401 1462 400 1462 400 1323 399 1323 399 1323 398 1323 398 1313 397 1313 397 1436 396 1436 396 1436 395 1436 395 1436 394 1436 394 1402 393 1402 393 1616 392 1616 392 1616 391 1616 391 1616 390 1616 390 1570 389 1570 389 1617 388 1617 388 1617 387 1617 387 1617 386 1617 386 1617 385 1617 385 1624 384 1624 384 1624 383 1624 383 1624 382 1624 382 1480 381 1480 381 1562 380 1562 380 1562 379 1562 379 1562 378 1562 378 1458 377 1458 377 1458 376 1458 376 1456 375 1456 375 1625 374 1625 374 1625 373 1625 373 1625 372 1625 372 1486 371 1486 371 1452 370 1452 370 1444 369 1444 369 1476 368 1476 368 1476 367 1476 367 1505 366 1505 366 1505 365 1505 365 1505 364 1505 364 1625 363 1625 363 1625 362 1625 362 1533 361 1533 361 1615 360 1615 360 1615 359 1615 359 1620 358 1620 358 1620 357 1620 357 1620 356 1620 356 1506 355 1506 355 1625 354 1625 354 1625 353 1625 353 1625 352 1625 352 1614 351 1614 351 1614 350 1614 350 1465 349 1465 349 1618 348 1618 348 1618 347 1618 347 1618 346 1618 346 1394 345 1394 345 1450 344 1450 344 1450 343 1450 343 1450 342 1450 342 1436 341 1436 341 1441 340 1441 340 1441 339 1441 339 1441 338 1441 338 1340 337 1340 337 1447 336 1447 336 1489 335 1489 335 1489 334 1489 334 1451 333 1451 333 1451 332 1451 332 1436 331 1436 331 1438 330 1438 330 1438 329 1438 329 1438 328 1438 328 1324 327 1324 327 1325 326 1325 326 1325 325 1325 325 1399 324 1399 324 1623 323 1623 323 1623 322 1623 322 1339 321 1339 321 1455 320 1455 320 1455 319 1455 319 1455 318 1455 318 1441 317 1441 317 1441 316 1441 316 1364 315 1364 315 1433 314 1433 314 1623 313 1623 313 1623 312 1623 312 1623 311 1623 311 1623 310 1623 310 1413 309 1413 309 1413 308 1413 308 1346 307 1346 307 1452 306 1452 306 1452 305 1452 305 1467 304 1467 304 1467 303 1467 303 1467 302 1467 302 1433 301 1433 301 1433 300 1433 300 1427 299 1427 299 1571 298 1571 298 1571 297 1571 297 1611 296 1611 296 1611 295 1611 295 1611 294 1611 294 1476 293 1476 293 1476 292 1476 292 1471 291 1471 291 1482 290 1482 290 1482 289 1482 289 1482 288 1482 288 1472 287 1472 287 1472 286 1472 286 1447 285 1447 285 1447 284 1447 284 1488 283 1488 283 1625 282 1625 282 1625 281 1625 281 1625 280 1625 280 1492 279 1492 279 1506 278 1506 278 1506 277 1506 277 1506 276 1506 276 1484 275 1484 275 1541 274 1541 274 1623 273 1623 273 1623 272 1623 272 1623 271 1623 271 1623 270 1623 270 1472 269 1472 269 1516 268 1516 268 1516 267 1516 267 1516 266 1516 266 1460 265 1460 265 1551 264 1551 264 1551 263 1551 263 1551 262 1551 262 1487 261 1487 261 1597 260 1597 260 1597 259 1597 259 1597 258 1597 258 1440 257 1440 257 1562 256 1562 256 1562 255 1562 255 1562 254 1562 254 1471 253 1471 253 1510 252 1510 252 1623 251 1623 251 1625 250 1625 250 1625 249 1625 249 1625 248 1625 248 1378 247 1378 247 1411 246 1411 246 1623 245 1623 245 1623 244 1623 244 1575 243 1575 243 1625 242 1625 242 1625 241 1625 241 1625 240 1625 240 1513 239 1513 239 1513 238 1513 238 1438 237 1438 237 1625 236 1625 236 1625 235 1625 235 1625 234 1625 234 1543 233 1543 233 1543 232 1543 232 1488 231 1488 231 1625 230 1625 230 1625 229 1625 229 1625 228 1625 228 1589 227 1589 227 1589 226 1589 226 1547 225 1547 225 1547 224 1547 224 1393 223 1393 223 1542 222 1542 222 1542 221 1542 221 1625 220 1625 220 1625 219 1625 219 1625 218 1625 218 1567 217 1567 217 1567 216 1567 216 1559 215 1559 215 1559 214 1559 214 1402 213 1402Z" fill="#bfbfbf" stroke="none"/>
<path d="M812 622L822 603L832 621M708 751L723 677" stroke="#bfbfbf" stroke-width="2.1" fill="none"/>
<path d="M215.1 1267.0 L215.1 1289.0 L216.1 1406.5 L219.2 1451.0 L221.2 1287.0 L223.2 1274.2 L225.2 1265.0 L229.3 1410.6 L231.3 1285.0 L236.4 1366.0 L238.4 1285.0 L242.4 1210.0 L244.9 1210.3 L247.5 1214.0 L248.5 1382.0 L254.6 1327.7 L262.6 1422.7 L269.7 1337.8 L272.8 1402.5 L274.8 1331.7 L277.1 1332.2 L279.4 1327.3 L281.6 1330.0 L283.9 1329.7 L287.9 1378.2 L290.4 1359.7 L293.0 1347.9 L296.0 1358.0 L298.4 1352.9 L300.7 1344.8 L303.1 1337.8 L305.1 1254.8 L307.6 1248.8 L310.2 1238.7 L313.2 1325.6 L318.3 1240.7 L320.3 1241.9 L322.3 1244.7 L325.3 1214.4 L327.5 1219.0 L329.8 1222.1 L332.0 1225.4 L334.3 1230.8 L336.5 1234.6 L338.5 1229.2 L340.6 1227.0 L342.6 1225.1 L344.6 1220.5 L346.6 1222.6 L348.6 1224.5 L349.6 1463.2 L354.7 1414.6 L358.7 1333.7 L364.8 1267.0 L367.8 1305.4 L371.9 1267.0 L375.0 1333.7 L377.4 1294.0 L382.3 1439.6 L389.6 1248.0 L392.0 1233.9 L394.4 1221.0 L398.0 1228.5 L401.7 1203.0 L404.1 1252.8 L407.8 1221.2 L409.8 1219.7 L411.8 1211.6 L413.8 1206.7 L417.5 1245.5 L419.9 1253.1 L422.3 1262.5 L428.4 1215.2 L433.2 1274.6 L435.7 1272.2 L436.9 1303.7 L440.5 1309.8 L442.9 1310.0 L445.4 1309.0 L447.8 1309.8 L449.0 1364.4 L452.6 1377.7 L456.3 1349.8 L458.7 1350.4 L461.1 1352.2 L463.6 1359.0 L466.0 1366.8 L468.4 1359.5 L472.0 1422.6 L475.7 1398.3 L479.3 1410.5 L481.8 1409.3 L484.2 1402.0 L486.6 1402.4 L489.0 1403.1 L491.4 1403.2 L493.9 1347.4 L496.3 1412.9 L499.9 1420.2 L502.4 1512.4 L504.8 1509.8 L507.2 1505.1 L510.9 1473.5 L515.7 1420.2 L518.1 1454.1 L521.8 1437.2 L524.2 1257.6 L526.6 1366.8 L528.6 1367.4 L530.7 1361.6 L532.7 1359.5 L535.1 1345.0 L538.8 1214.0 L542.4 1347.4 L544.8 1347.4 L547.2 1286.7 L549.7 1289.2 L552.0 1303.7 L554.0 1298.7 L556.1 1295.6 L560.1 1322.0 L562.1 1316.2 L564.2 1300.9 L566.2 1293.6 L569.2 1342.2 L572.2 1317.9 L576.3 1390.7 L578.3 1381.0 L580.3 1372.5 L582.4 1413.0 L584.9 1420.6 L587.4 1426.1 L591.5 1336.0 L592.5 1257.2 L595.0 1259.6 L597.5 1255.2 L598.5 1208.7 L600.5 1213.3 L602.6 1220.8 L606.2 1214.7 L610.7 1378.6 L616.7 1307.8 L619.8 1317.9 L622.3 1315.3 L624.8 1319.9 L626.9 1332.0 L629.4 1340.1 L631.9 1346.2 L634.5 1338.3 L637.0 1332.0 L640.0 1344.2 L643.0 1331.0 L645.5 1336.5 L648.1 1343.2 L650.1 1289.6 L653.2 1295.6 L656.2 1370.5 L658.7 706.8 L662.5 719.3 L660.0 809.0 L665.0 761.7 L667.5 801.6 L669.6 801.0 L671.6 799.4 L673.7 797.8 L679.9 726.8 L682.4 771.6 L686.1 759.2 L689.9 781.6 L696.1 674.4 L698.6 776.6 L701.1 699.3 L704.8 704.3 L708.6 684.4 L710.7 683.2 L712.7 680.4 L714.8 679.4 L717.3 681.3 L719.8 681.7 L722.3 679.4 L724.8 659.5 L727.3 629.5 L734.8 529.8 L738.5 504.9 L741.0 514.9 L744.7 584.7 L746.0 691.9 L748.1 692.8 L750.1 692.9 L752.2 694.4 L756.0 739.2 L758.1 738.6 L760.1 736.6 L762.2 734.2 L765.9 781.6 L768.0 773.4 L770.1 767.6 L772.2 761.7 L775.9 759.2 L780.9 634.5 L787.1 534.8 L789.2 547.2 L791.3 556.3 L793.4 567.2 L797.1 572.2 L799.6 602.1 L803.3 619.6 L807.1 652.0 L809.6 650.3 L812.1 649.5 L814.5 624.5 L816.6 624.7 L818.8 624.2 L820.9 624.1 L823.1 621.0 L825.2 626.4 L827.4 623.9 L829.5 622.2 L831.7 624.8 L833.8 623.2 L836.0 622.1 L838.1 620.2 L840.3 620.2 L842.5 617.1 L844.6 619.3 L846.6 615.6 L848.7 613.6 L852.2 675.0 L854.2 669.2 L856.3 661.8 L858.3 650.4 L861.0 650.6 L863.6 653.9 L865.7 658.0 L867.8 664.9 L869.9 666.1 L872.0 673.2 L874.1 678.5 L878.5 710.0 L882.8 675.0 L884.9 676.9 L887.0 676.6 L889.1 675.9 L891.2 672.2 L893.3 675.0 L898.6 615.4 L901.2 624.2 L903.9 625.9 L907.4 632.9 L910.0 635.5 L912.6 636.4 L914.6 649.8 L916.7 661.7 L918.8 670.6 L920.8 683.3 L922.9 695.9 L924.9 710.0 L927.1 705.0 L929.3 694.2 L931.5 686.9 L933.7 682.0 L935.7 690.4 L937.8 699.1 L939.8 708.2 L943.3 692.5 L946.0 697.7 L948.6 701.2 L952.9 739.8 L955.0 738.8 L957.1 736.7 L959.3 732.6 L961.4 728.1 L963.5 731.0 L965.8 739.4 L968.2 747.8 L970.5 755.6 L973.1 763.5 L975.7 767.8 L979.2 785.4 L982.7 787.1 L984.9 789.6 L987.1 791.4 L989.3 795.6 L991.5 797.6 L994.3 802.0 L997.0 804.5 L999.7 811.7 L1001.9 808.0 L1004.0 807.4 L1006.5 805.5 L1009.1 807.1 L1011.6 806.3 L1014.2 817.0 L1016.9 821.4 L1019.1 822.2 L1021.2 822.4 L1023.4 820.4 L1026.1 823.4 L1028.8 825.7 L1031.5 829.9 L1034.2 833.3 L1036.3 834.0 L1038.5 835.6 L1040.7 833.7 L1042.8 838.7 L1044.9 843.3 L1047.1 851.6 L1049.2 846.4 L1051.4 845.1 L1053.6 851.2 L1055.7 854.8 L1057.9 851.5 L1060.1 846.2 L1062.6 847.5 L1065.1 847.8 L1067.6 845.1 L1070.3 850.6 L1073.0 857.0 L1075.5 857.5 L1078.0 857.8 L1080.5 853.8 L1082.7 862.4 L1084.8 871.0 L1087.5 871.0 L1090.2 867.8 L1093.5 879.6 L1096.0 881.5 L1098.5 881.5 L1101.0 886.1 L1104.3 857.0 L1106.4 858.3 L1108.6 859.2 L1110.8 860.8 L1112.9 865.1 L1115.0 867.1 L1117.2 871.1 L1119.3 870.3 L1121.5 876.4 L1123.7 874.7 L1125.8 866.7 L1129.0 871.0 L1131.2 869.8 L1133.3 864.0 L1135.5 861.3 L1138.7 863.5 L1142.0 886.1 L1144.7 881.5 L1147.4 879.6 L1149.5 881.1 L1151.7 883.5 L1153.8 884.0 L1156.0 885.7 L1158.1 886.8 L1160.2 884.3 L1162.4 888.3 L1164.4 903.7 L1166.4 902.0 L1168.4 905.7 L1170.4 903.7 L1172.9 906.1 L1175.3 905.4 L1177.8 909.7 L1180.0 930.4 L1182.0 928.1 L1184.0 926.3 L1186.0 927.5 L1188.5 927.4 L1190.9 932.2 L1193.4 931.9 L1195.6 969.0 L1198.2 964.2 L1200.8 960.1 L1204.5 983.8 L1207.5 1016.5 L1211.2 1026.8 L1217.1 986.8 L1218.6 1032.8 L1220.8 1004.6 L1223.0 1008.5 L1225.3 1009.0 L1226.0 1063.9 L1230.5 1028.3 L1232.6 1240.5 L1236.0 1371.1 L1238.3 1372.2 L1240.6 1370.4 L1242.9 1373.4 L1246.4 1370.0 L1249.2 1371.9 L1252.1 1375.7 L1254.4 1380.9 L1256.7 1378.0 L1259.0 1379.3 L1261.3 1382.6 L1263.5 1382.7 L1265.8 1379.1 L1268.1 1380.7 L1270.4 1382.0 L1272.7 1385.7 L1275.0 1384.9 L1277.3 1382.2 L1279.6 1385.5 L1281.9 1384.9 L1284.2 1383.3 L1286.5 1382.8 L1288.8 1383.7 L1291.1 1386.7 L1293.4 1384.9 L1295.7 1385.5 L1298.0 1383.8 L1300.2 1385.8 L1302.5 1388.3 L1304.8 1389.7 L1307.1 1388.0 L1309.4 1383.8 L1311.7 1388.2 L1314.0 1383.0 L1316.3 1382.6 L1318.6 1381.2 L1320.9 1383.2 L1323.2 1385.2 L1325.4 1386.6 L1327.7 1386.1 L1330.0 1384.9 L1332.3 1386.2 L1334.6 1388.0 L1336.9 1388.7 L1339.2 1392.9 L1342.1 1390.5 L1344.9 1388.3 L1347.0 1389.0 L1349.0 1391.9 L1351.1 1391.2 L1353.1 1393.9 L1355.2 1396.3 L1357.5 1392.9 L1359.8 1390.5 L1362.1 1388.5 L1364.4 1388.3 L1367.2 1388.2 L1370.0 1391.2 L1372.0 1388.8 L1374.0 1390.9 L1376.1 1389.6 L1378.1 1388.8 L1380.5 1388.0 L1382.9 1392.0 L1385.4 1392.9 L1387.8 1393.7 L1389.9 1396.9 L1392.0 1395.3 L1394.1 1396.3 L1396.2 1396.5 L1398.3 1398.5 L1400.3 1397.2 L1402.3 1396.3 L1404.3 1394.3 L1406.4 1392.2 L1408.4 1391.9 L1410.4 1389.6 L1412.7 1389.7 L1414.9 1390.0 L1417.2 1388.2 L1419.4 1389.9 L1421.7 1389.6 L1423.9 1388.2 L1426.0 1388.6 L1428.2 1390.2 L1430.4 1393.4 L1432.5 1391.8 L1434.7 1390.4 L1437.1 1389.2 L1439.5 1388.0 L1441.7 1388.5 L1443.8 1391.1 L1446.0 1390.4 L1448.0 1392.4 L1450.0 1392.1 L1452.1 1389.9 L1454.1 1390.1 L1456.5 1391.3 L1458.9 1391.4 L1461.4 1392.4 L1463.8 1393.7 L1466.2 1392.2 L1468.7 1392.9 L1471.1 1389.7 L1473.5 1392.8 L1475.9 1391.8 L1478.3 1395.1 L1480.8 1393.9 L1483.2 1396.1 L1485.6 1398.3 L1488.1 1396.8 L1490.5 1400.1 L1492.9 1398.5 L1495.3 1398.6 L1497.7 1396.9 L1499.3 1389.6 L1501.6 1386.9 L1503.9 1386.3 L1506.1 1390.0 L1508.4 1384.1 L1510.7 1384.0 L1513.1 1378.9 L1515.5 1375.9 L1518.0 1378.2 L1520.4 1382.3 L1522.5 1381.3 L1524.7 1380.1 L1526.8 1379.1 L1529.0 1379.3 L1531.1 1377.6 L1533.3 1375.1 L1535.7 1378.1 L1538.1 1382.3 L1540.1 1381.2 L1542.2 1378.9 L1544.2 1378.2 L1546.2 1379.9 L1548.6 1381.0 L1551.1 1385.5 L1553.5 1386.8 L1555.9 1388.8 L1557.9 1389.0 L1560.0 1388.2 L1562.0 1385.5 L1564.0 1384.8 L1566.0 1386.0 L1568.0 1379.9 L1570.1 1377.8 L1572.1 1376.7 L1574.5 1380.5 L1577.0 1385.6 L1579.4 1385.7 L1581.8 1382.1 L1584.3 1379.6 L1586.7 1379.1 L1589.1 1380.4 L1591.6 1382.0 L1594.0 1380.7 L1596.4 1381.5 L1598.5 1383.0 L1600.7 1387.0 L1602.8 1387.2 L1605.0 1386.5 L1607.1 1384.3 L1609.3 1380.7 L1611.6 1379.5 L1613.8 1381.1 L1616.1 1381.3 L1618.3 1377.9 L1620.6 1380.7 L1622.6 1380.7 L1624.7 1377.2 L1626.7 1374.7 L1628.7 1373.4 L1630.7 1376.5 L1632.8 1372.8 L1634.8 1371.1 L1636.8 1371.8 L1638.9 1375.8 L1641.1 1380.8 L1643.2 1384.0 L1645.2 1384.4 L1647.2 1382.3 L1649.3 1380.2 L1651.3 1380.7 L1653.5 1382.9 L1655.6 1385.9 L1657.8 1390.4 L1659.8 1387.8 L1661.8 1388.4 L1663.9 1386.6 L1665.9 1386.4 L1667.9 1387.1 L1670.0 1386.3 L1672.0 1386.9 L1674.0 1388.8 L1676.3 1386.6 L1678.5 1384.4 L1680.8 1384.7 L1683.0 1379.7 L1685.3 1379.1 L1687.5 1379.5 L1689.6 1379.3 L1691.8 1377.5 L1693.9 1380.7 L1696.0 1380.0 L1698.2 1379.9 L1700.6 1376.3 L1703.1 1380.0 L1705.5 1380.1 L1707.9 1378.3 L1710.3 1378.3 L1712.8 1383.3 L1715.2 1382.1 L1717.6 1383.1 L1719.6 1380.9 L1721.7 1383.2 L1723.7 1381.3 L1725.7 1381.5 L1727.8 1380.5 L1730.0 1380.4 L1732.2 1385.1 L1734.3 1384.7 L1736.4 1387.9 L1738.6 1388.0 L1740.8 1387.5 L1742.9 1385.1 L1745.1 1384.8 L1747.2 1384.4 L1749.4 1388.3 L1751.5 1388.6 L1753.7 1387.6 L1755.8 1386.3 L1758.0 1387.2 L1760.2 1383.8 L1762.3 1382.8 L1764.5 1381.5 L1766.8 1386.5 L1769.2 1387.1 L1771.5 1388.8 L1773.9 1386.5 L1776.3 1383.3 L1778.8 1383.6 L1781.2 1381.5 L1783.6 1382.2 L1786.0 1385.6 L1788.0 1385.2 L1790.0 1385.9 L1792.1 1386.0 L1794.1 1384.0 L1796.9 1382.2 L1799.8 1379.9 L1802.0 1381.8 L1804.2 1385.1 L1806.5 1389.9 L1808.7 1389.6 L1811.0 1389.1 L1813.2 1385.2 L1815.5 1388.6 L1817.7 1385.5 L1820.0 1384.0 L1822.4 1382.4 L1824.8 1370.2 L1827.2 1370.7 L1829.7 1372.6 L1832.9 1382.3 L1835.2 1383.0 L1837.4 1383.5 L1839.7 1385.3 L1841.9 1384.7 L1844.2 1386.4 L1846.6 1384.9 L1849.1 1385.1 L1851.5 1388.6 L1853.9 1389.6 L1855.9 1388.0 L1858.0 1387.1 L1860.0 1390.4 L1862.0 1386.4 L1864.5 1392.1 L1866.9 1395.3 L1868.9 1393.1 L1870.9 1386.8 L1872.9 1384.2 L1874.9 1379.9 L1877.0 1382.3 L1879.1 1385.1 L1881.3 1389.3 L1883.4 1391.9 L1885.5 1393.7 L1887.9 1389.3 L1890.3 1384.2 L1892.7 1379.1 L1895.2 1380.6 L1897.6 1386.4 L1900.4 1380.8 L1903.2 1377.5 L1905.6 1380.5 L1908.1 1381.8 L1910.5 1384.8 L1912.5 1381.8 L1914.5 1381.7 L1916.6 1377.9 L1918.6 1377.5 L1920.8 1379.7 L1922.9 1385.3 L1925.1 1387.2 L1927.1 1381.6 L1929.1 1379.3 L1931.1 1372.8 L1933.1 1367.0 L1935.1 1372.5 L1937.2 1377.2 L1939.2 1376.5 L1941.2 1384.0 L1943.7 1390.3 L1946.1 1396.9 L1948.2 1392.5 L1950.4 1391.3 L1952.5 1389.6 L1954.7 1392.4 L1956.8 1397.4 L1959.0 1398.5 L1961.4 1395.5 L1963.9 1395.1 L1966.3 1389.6 L1969.2 1394.9 L1972.0 1401.7 L1974.1 1398.1 L1976.3 1394.8 L1978.4 1391.2 L1980.8 1394.9 L1983.2 1395.6 L1985.7 1396.9 L1988.1 1400.1 L1990.3 1397.2 L1992.4 1393.1 L1994.6 1392.8 L1996.6 1391.9 L1998.7 1388.3 L2000.7 1385.0 L2002.7 1381.5 L2005.9 1392.8 L2009.1 1379.9 L2011.3 1384.6 L2013.4 1387.6 L2015.6 1392.8 L2018.0 1389.8 L2020.4 1389.2 L2022.9 1384.3 L2025.3 1383.1 L2027.5 1384.9 L2029.6 1391.4 L2031.8 1392.0 L2034.2 1391.1 L2036.7 1386.0 L2039.1 1383.1 L2041.5 1379.1 L2043.9 1388.7 L2046.3 1397.7 L2048.6 1397.4 L2050.8 1392.2 L2053.1 1390.6 L2055.3 1388.8 L2057.6 1385.6 L2059.6 1388.0 L2061.6 1385.6 L2063.7 1386.6 L2065.7 1386.4 L2067.7 1387.9 L2069.8 1389.9 L2071.8 1392.1 L2073.8 1395.3 L2075.8 1392.8 L2077.9 1391.4 L2079.9 1386.4 L2081.9 1384.8 L2083.9 1385.7 L2085.9 1387.8 L2088.0 1390.7 L2090.0 1392.0 L2092.2 1388.5 L2094.3 1381.0 L2096.5 1378.3 L2098.9 1381.7 L2101.3 1384.0 L2103.7 1378.2 L2106.2 1376.4 L2108.6 1371.0 L2110.6 1374.4 L2112.6 1380.7 L2115.1 1377.5 L2117.5 1377.5 L2119.9 1380.9 L2122.3 1386.4 L2126.2 1376.7 L2128.3 1376.9 L2130.5 1375.8 L2132.6 1378.0 L2134.8 1378.2 L2136.9 1378.3 L2139.0 1373.3 L2141.2 1368.4 L2143.3 1362.9 L2145.5 1363.2 L2147.6 1359.7 L2149.8 1359.7 L2151.9 1353.4 L2154.0 1347.1 L2156.1 1349.8 L2158.1 1352.5 L2160.8 1332.3 L2162.8 1332.6 L2164.8 1339.0 L2170.2 1301.3 L2172.2 1309.3 L2174.3 1316.1 L2176.5 1311.8 L2178.8 1308.8 L2181.0 1306.7 L2183.7 1277.0 L2185.9 1284.4 L2188.2 1293.3 L2190.4 1301.3 L2193.1 1282.4 L2195.1 1291.7 L2197.2 1300.0 L2199.2 1289.9 L2201.2 1277.4 L2203.2 1267.6 L2206.6 1294.6 L2208.6 1284.1 L2210.6 1271.6 L2213.3 1317.5 L2217.4 1287.8 L2220.1 1306.7 L2223.5 1285.1 L2225.5 1314.8 L2229.5 1263.6 L2232.2 1269.6 L2234.9 1274.3 L2237.2 1264.3 L2239.6 1255.5 L2241.6 1265.3 L2243.7 1276.4 L2245.7 1285.1 L2247.7 1275.0 L2249.8 1264.6 L2251.8 1252.9 L2253.8 1242.0 L2257.8 1277.0 L2259.9 1280.1 L2261.9 1279.7 L2265.2 1309.4 L2267.2 1306.9 L2269.3 1298.4 L2271.3 1291.9 L2274.0 1263.6 L2276.7 1246.3 L2279.4 1233.9 L2282.1 1247.3 L2284.8 1255.5 L2286.8 1246.5 L2288.9 1237.2 L2290.9 1227.6 L2292.9 1223.1 L2295.6 1236.5 L2298.2 1248.7 L2300.2 1242.9 L2302.3 1233.9 L2309.7 1285.1 L2312.2 1283.9 L2314.6 1279.1 L2317.1 1277.0 L2319.1 1272.4 L2321.1 1263.4 L2323.1 1255.9 L2325.2 1250.2 L2327.2 1243.7 L2329.2 1236.6 L2331.3 1252.8 L2335.3 1215.0 L2337.7 1226.6 L2340.0 1238.0 L2342.7 1252.8 L2345.4 1266.3 L2347.4 1253.6 L2349.5 1247.4 L2353.5 1275.7 L2355.5 1274.7 L2357.5 1268.9 L2360.9 1285.1 L2364.3 1271.6 L2367.0 1279.5 L2369.7 1289.2 L2371.7 1287.5 L2373.8 1282.6 L2375.8 1281.3 L2377.8 1278.4 L2380.5 1290.5 L2383.2 1256.8 L2385.8 1250.5 L2388.5 1244.7 L2393.9 1205.6 L2399.3 1243.3 L2401.3 1235.9 L2403.4 1233.8 L2405.4 1229.1 L2407.4 1223.1 L2409.7 1227.3 L2411.9 1231.6 L2414.2 1240.6 L2416.2 1232.2 L2418.2 1225.8 L2420.9 1232.6 L2423.2 1227.3 L2425.6 1224.5 L2429.0 1250.1 L2431.0 1246.2 L2433.0 1242.0 L2435.0 1248.7 L2437.0 1255.5 L2439.8 1258.6 L2442.5 1256.8 L2444.0 1259.7 L2446.7 1275.9 L2449.4 1268.8 L2452.1 1259.7 L2454.8 1269.2 L2456.9 1260.7 L2458.9 1253.0 L2461.1 1256.4 L2463.4 1254.9 L2465.6 1262.4 L2467.8 1258.3 L2470.1 1255.6 L2472.3 1254.3 L2474.6 1254.6 L2476.8 1255.7 L2479.1 1255.7 L2481.8 1259.4 L2484.5 1262.4 L2486.5 1269.9 L2488.5 1274.6 L2491.2 1269.5 L2493.9 1266.5 L2496.1 1269.2 L2498.4 1270.8 L2500.6 1273.2 L2502.9 1270.5 L2505.1 1268.3 L2507.4 1265.1 L2510.1 1251.6 L2512.1 1262.0 L2514.1 1273.2 L2516.8 1268.1 L2519.5 1262.4 L2522.2 1263.7 L2524.9 1265.1 L2528.9 1289.4 L2531.6 1280.1 L2534.3 1267.8 L2536.3 1267.0 L2538.4 1266.9 L2540.4 1269.7 L2542.4 1265.1 L2545.1 1254.3 L2547.8 1248.5 L2550.5 1240.9 L2551.9 1230.1 L2554.1 1225.9 L2556.4 1221.8 L2558.6 1215.3 L2561.3 1210.4 L2564.0 1208.5 L2566.7 1216.6 L2568.7 1208.2 L2570.7 1197.7 L2573.4 1205.6 L2576.1 1211.2 L2578.1 1203.1 L2580.2 1193.7 L2582.4 1193.8 L2584.7 1192.1 L2586.9 1189.6 L2588.9 1192.7 L2590.9 1191.3 L2593.0 1194.3 L2595.0 1195.0 L2597.0 1216.6 L2599.3 1206.3 L2601.7 1197.7 L2604.4 1199.6 L2607.1 1197.7 L2609.4 1194.8 L2611.6 1189.5 L2613.9 1188.3 L2619.2 1224.7 L2621.2 1214.8 L2623.3 1204.5 L2626.0 1224.7 L2628.7 1225.2 L2631.4 1228.7 L2634.1 1225.5 L2636.8 1219.3 L2639.5 1227.5 L2642.2 1236.8 L2644.2 1224.1 L2646.2 1218.0 L2648.9 1239.5 L2651.1 1236.2 L2653.4 1235.6 L2655.6 1231.4 L2657.9 1233.3 L2660.1 1233.2 L2662.4 1235.5 L2665.1 1238.5 L2667.8 1239.5 L2670.5 1255.9 L2673.2 1270.5 L2675.5 1273.0 L2677.9 1272.6 L2680.2 1272.1 L2682.6 1271.9 L2686.6 1246.3 L2689.3 1247.8 L2692.0 1251.6 L2694.1 1242.6 L2696.1 1232.8 L2698.8 1236.6 L2701.5 1239.5 L2703.7 1239.1 L2706.0 1239.3 L2708.2 1238.2 L2710.2 1246.5 L2712.2 1258.4 L2714.9 1259.9 L2717.6 1259.7 L2723.0 1216.6 L2725.1 1220.7 L2727.1 1224.7 L2730.0 1226.4 L2732.8 1239.6 L2734.7 1250.9 L2737.1 1258.1 L2739.4 1264.2 L2742.3 1250.0 L2744.7 1255.5 L2747.0 1261.3 L2749.8 1264.7 L2752.6 1268.9 L2755.5 1258.5 L2757.8 1262.2 L2760.2 1265.1 L2762.6 1261.1 L2764.9 1254.7 L2767.2 1251.4 L2769.6 1249.1 L2771.5 1267.9 L2775.3 1260.4 L2779.1 1273.6 L2781.4 1264.6 L2783.8 1254.7 L2786.6 1261.3 L2789.4 1260.7 L2792.3 1262.3 L2795.1 1262.0 L2797.9 1260.4 L2799.8 1275.5 L2803.6 1272.6 L2806.4 1277.4 L2809.2 1282.1 L2810.2 1295.3 L2813.0 1280.2 L2815.3 1280.6 L2817.7 1284.9 L2818.7 1300.0 L2821.1 1296.1 L2823.4 1288.7 L2825.3 1299.1 L2828.1 1288.7 L2830.9 1291.1 L2833.8 1296.2 L2837.5 1288.7 L2840.3 1291.6 L2843.2 1294.3 L2845.6 1289.5 L2847.9 1288.7 L2850.2 1291.3 L2852.6 1299.1 L2855.5 1287.7 L2859.2 1296.2 L2862.1 1300.0 L2864.9 1301.9 L2867.7 1291.5 L2871.5 1297.2 L2875.3 1293.4 L2879.1 1290.6 L2881.4 1289.0 L2883.8 1291.5 L2886.6 1283.0 L2890.4 1277.4 L2892.3 1283.0 L2895.1 1266.0 L2897.4 1262.9 L2899.8 1266.0 L2902.2 1274.2 L2904.5 1283.0 L2908.3 1268.9 L2911.2 1273.2 L2914.0 1282.1 L2917.7 1280.2 L2920.6 1299.1 L2923.4 1288.7 L2926.7 1289.6" stroke="#ff0000" stroke-width="6.6" fill="none" stroke-linejoin="round" stroke-linecap="square"/>
<rect x="212.3" y="112.4" width="2717.1" height="1513.0" fill="none" stroke="#000" stroke-width="3.33"/>
<path d="M212.3 1625.4V1640.0M212.3 112.4H197.7M551.9 1625.4V1640.0M212.3 301.5H197.7M891.6 1625.4V1640.0M212.3 490.6H197.7M1231.2 1625.4V1640.0M212.3 679.8H197.7M1570.8 1625.4V1640.0M212.3 868.9H197.7M1910.5 1625.4V1640.0M212.3 1058.0H197.7M2250.1 1625.4V1640.0M212.3 1247.2H197.7M2589.8 1625.4V1640.0M212.3 1436.3H197.7M2929.4 1625.4V1640.0M212.3 1625.4H197.7" stroke="#000" stroke-width="3.33" fill="none"/>
<text x="181" y="1640.4" font-size="42.4" text-anchor="end" textLength="77" lengthAdjust="spacingAndGlyphs">350</text>
<text x="181" y="1451.3" font-size="42.4" text-anchor="end" textLength="77" lengthAdjust="spacingAndGlyphs">375</text>
<text x="181" y="1262.2" font-size="42.4" text-anchor="end" textLength="77" lengthAdjust="spacingAndGlyphs">400</text>
<text x="181" y="1073.0" font-size="42.4" text-anchor="end" textLength="77" lengthAdjust="spacingAndGlyphs">425</text>
<text x="181" y="883.9" font-size="42.4" text-anchor="end" textLength="77" lengthAdjust="spacingAndGlyphs">450</text>
<text x="181" y="694.8" font-size="42.4" text-anchor="end" textLength="77" lengthAdjust="spacingAndGlyphs">475</text>
<text x="181" y="505.7" font-size="42.4" text-anchor="end" textLength="77" lengthAdjust="spacingAndGlyphs">500</text>
<text x="181" y="316.5" font-size="42.4" text-anchor="end" textLength="77" lengthAdjust="spacingAndGlyphs">525</text>
<text x="181" y="127.4" font-size="42.4" text-anchor="end" textLength="77" lengthAdjust="spacingAndGlyphs">550</text>
<text x="212.3" y="1685.2" font-size="42.4" text-anchor="middle" textLength="53" lengthAdjust="spacingAndGlyphs">00</text>
<text x="551.9" y="1685.2" font-size="42.4" text-anchor="middle" textLength="53" lengthAdjust="spacingAndGlyphs">03</text>
<text x="891.6" y="1685.2" font-size="42.4" text-anchor="middle" textLength="53" lengthAdjust="spacingAndGlyphs">06</text>
<text x="1231.2" y="1685.2" font-size="42.4" text-anchor="middle" textLength="53" lengthAdjust="spacingAndGlyphs">09</text>
<text x="1570.8" y="1685.2" font-size="42.4" text-anchor="middle" textLength="53" lengthAdjust="spacingAndGlyphs">12</text>
<text x="1910.5" y="1685.2" font-size="42.4" text-anchor="middle" textLength="53" lengthAdjust="spacingAndGlyphs">15</text>
<text x="2250.1" y="1685.2" font-size="42.4" text-anchor="middle" textLength="53" lengthAdjust="spacingAndGlyphs">18</text>
<text x="2589.8" y="1685.2" font-size="42.4" text-anchor="middle" textLength="53" lengthAdjust="spacingAndGlyphs">21</text>
<text x="2929.4" y="1685.2" font-size="42.4" text-anchor="middle" textLength="53" lengthAdjust="spacingAndGlyphs">00</text>
<text x="1570.3" y="1743.2" font-size="42.4" text-anchor="middle" textLength="278" lengthAdjust="spacingAndGlyphs">Uhrzeit (UTC)</text>
<text transform="translate(81,872.5) rotate(-90)" x="0" y="0" font-size="42.4" text-anchor="middle" textLength="88" lengthAdjust="spacingAndGlyphs">ppm</text>
<text x="892" y="87.9" font-size="50.9" textLength="1358" lengthAdjust="spacingAndGlyphs">CO<tspan font-size="35.6" dy="9">2</tspan><tspan dy="-9">-Konzentration am 28.9.2019 (Dachplattform MIM)</tspan></text>
<text x="224" y="136" font-size="17" fill="#808080" textLength="240" lengthAdjust="spacingAndGlyphs">erstellt 2019-09-28 23:59:26</text>
<rect x="2334.5" y="133" width="573" height="133.5" rx="7" ry="7" fill="#fff" fill-opacity="0.8" stroke="#d4d4d4" stroke-width="3.3"/>
<path d="M2349.8 165.8H2435" stroke="#c0c0c0" stroke-width="2.1"/>
<path d="M2348 226.4H2437" stroke="#ff0000" stroke-width="6.25"/>
<text x="2469" y="181.1" font-size="42.4" textLength="419.6" lengthAdjust="spacingAndGlyphs">Messwerte (~10 Hz)</text>
<text x="2471" y="242" font-size="42.4" textLength="339.8" lengthAdjust="spacingAndGlyphs">1-Minuten-mittel</text>
</svg></body></html>
